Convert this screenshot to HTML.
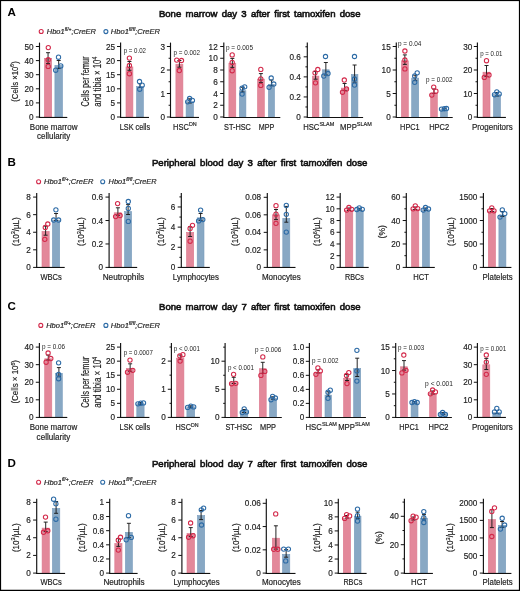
<!DOCTYPE html>
<html><head><meta charset="utf-8"><style>
html,body{margin:0;padding:0;background:#fff;}
body{width:520px;height:591px;overflow:hidden;}
svg{display:block;font-family:"Liberation Sans",sans-serif;}
svg{will-change:transform}
text:not([font-weight]){stroke:currentColor;stroke-width:0.18px}
text.pv{stroke:none}
text.ttl{stroke:#111;stroke-width:0.6px;word-spacing:1.6px}
</style></head><body>
<svg width="520" height="591" viewBox="0 0 520 591">
<rect x="0" y="0" width="520" height="591" fill="#fff"/>
<g fill="#1e1e1e" style="color:#1e1e1e">
<text x="7.4" y="16.2" font-size="11.6" font-weight="bold" fill="#000">A</text>
<text x="158.9" y="16.5" font-size="9.7" textLength="201.6" lengthAdjust="spacingAndGlyphs" fill="#111" class="ttl">Bone marrow day 3 after first tamoxifen dose</text>
<circle cx="41.2" cy="31.5" r="2" fill="none" stroke="#D3294A" stroke-width="1.1"/>
<circle cx="105.9" cy="31.6" r="2" fill="none" stroke="#2D6BA6" stroke-width="1.1"/>
<text x="46.8" y="33.9" font-size="6.9" font-style="italic" textLength="49.2" lengthAdjust="spacingAndGlyphs" fill="#2a2a2a">Hbo1<tspan font-size="4.6" dy="-3.3">fl/+</tspan><tspan dy="3.3">;CreER</tspan></text>
<text x="110.8" y="34" font-size="6.9" font-style="italic" textLength="49.2" lengthAdjust="spacingAndGlyphs" fill="#2a2a2a">Hbo1<tspan font-size="4.6" dy="-3.3">fl/fl</tspan><tspan dy="3.3">;CreER</tspan></text>
<rect x="44.4" y="58.3" width="7.3" height="58.7" fill="#E3889A" stroke="#DC788D" stroke-width="0.6"/>
<rect x="54.9" y="65.4" width="7.6" height="51.6" fill="#88A8C4" stroke="#789BBC" stroke-width="0.6"/>
<line x1="48.05" y1="52.7" x2="48.05" y2="63.6" stroke="#1a1a1a" stroke-width="0.95"/>
<line x1="46.05" y1="52.7" x2="50.05" y2="52.7" stroke="#1a1a1a" stroke-width="0.95"/>
<line x1="46.05" y1="63.6" x2="50.05" y2="63.6" stroke="#1a1a1a" stroke-width="0.95"/>
<circle cx="48.3" cy="47.6" r="2.15" fill="none" stroke="#D3294A" stroke-width="1.05"/>
<circle cx="48.2" cy="59.8" r="2.15" fill="none" stroke="#D3294A" stroke-width="1.05"/>
<circle cx="48.2" cy="66.4" r="2.15" fill="none" stroke="#D3294A" stroke-width="1.05"/>
<line x1="58.7" y1="60.5" x2="58.7" y2="68.4" stroke="#1a1a1a" stroke-width="0.95"/>
<line x1="56.7" y1="60.5" x2="60.7" y2="60.5" stroke="#1a1a1a" stroke-width="0.95"/>
<line x1="56.7" y1="68.4" x2="60.7" y2="68.4" stroke="#1a1a1a" stroke-width="0.95"/>
<circle cx="58.5" cy="57.2" r="2.15" fill="none" stroke="#2D6BA6" stroke-width="1.05"/>
<circle cx="60.8" cy="65.9" r="2.15" fill="none" stroke="#2D6BA6" stroke-width="1.05"/>
<circle cx="55.7" cy="70.2" r="2.15" fill="none" stroke="#2D6BA6" stroke-width="1.05"/>
<line x1="39.5" y1="42.6" x2="39.5" y2="117.6" stroke="#111" stroke-width="1.15"/>
<line x1="38.9" y1="117.45" x2="67.3" y2="117.45" stroke="#111" stroke-width="1.1"/>
<line x1="35.9" y1="117" x2="39.5" y2="117" stroke="#111" stroke-width="1"/>
<text x="33.6" y="120.05" font-size="8.9" text-anchor="end" textLength="4.55" lengthAdjust="spacingAndGlyphs">0</text>
<line x1="35.9" y1="102.9" x2="39.5" y2="102.9" stroke="#111" stroke-width="1"/>
<text x="33.6" y="105.95" font-size="8.9" text-anchor="end" textLength="9.11" lengthAdjust="spacingAndGlyphs">10</text>
<line x1="35.9" y1="88.8" x2="39.5" y2="88.8" stroke="#111" stroke-width="1"/>
<text x="33.6" y="91.85" font-size="8.9" text-anchor="end" textLength="9.11" lengthAdjust="spacingAndGlyphs">20</text>
<line x1="35.9" y1="74.7" x2="39.5" y2="74.7" stroke="#111" stroke-width="1"/>
<text x="33.6" y="77.75" font-size="8.9" text-anchor="end" textLength="9.11" lengthAdjust="spacingAndGlyphs">30</text>
<line x1="35.9" y1="60.6" x2="39.5" y2="60.6" stroke="#111" stroke-width="1"/>
<text x="33.6" y="63.65" font-size="8.9" text-anchor="end" textLength="9.11" lengthAdjust="spacingAndGlyphs">40</text>
<line x1="35.9" y1="46.5" x2="39.5" y2="46.5" stroke="#111" stroke-width="1"/>
<text x="33.6" y="49.55" font-size="8.9" text-anchor="end" textLength="9.11" lengthAdjust="spacingAndGlyphs">50</text>
<text x="17.6" y="81.5" font-size="8.6" text-anchor="middle" textLength="40.5" lengthAdjust="spacingAndGlyphs" transform="rotate(-90 17.6 81.5)">(Cells ×10<tspan font-size="5.68" dy="-3.44">6</tspan><tspan dy="3.44">)</tspan></text>
<text x="53.65" y="129.6" font-size="8.2" text-anchor="middle" textLength="47.7" lengthAdjust="spacingAndGlyphs">Bone marrow</text>
<text x="53.65" y="139.2" font-size="8.2" text-anchor="middle" textLength="33.1" lengthAdjust="spacingAndGlyphs">cellularity</text>
<rect x="126" y="66.9" width="6.9" height="50.1" fill="#E3889A" stroke="#DC788D" stroke-width="0.6"/>
<rect x="136.5" y="86.5" width="6.9" height="30.5" fill="#88A8C4" stroke="#789BBC" stroke-width="0.6"/>
<line x1="129.45" y1="61.5" x2="129.45" y2="70.3" stroke="#1a1a1a" stroke-width="0.95"/>
<line x1="127.45" y1="61.5" x2="131.45" y2="61.5" stroke="#1a1a1a" stroke-width="0.95"/>
<line x1="127.45" y1="70.3" x2="131.45" y2="70.3" stroke="#1a1a1a" stroke-width="0.95"/>
<circle cx="129.4" cy="58.1" r="2.15" fill="none" stroke="#D3294A" stroke-width="1.05"/>
<circle cx="129.4" cy="65.5" r="2.15" fill="none" stroke="#D3294A" stroke-width="1.05"/>
<circle cx="129.4" cy="73.7" r="2.15" fill="none" stroke="#D3294A" stroke-width="1.05"/>
<line x1="139.95" y1="83.7" x2="139.95" y2="87.5" stroke="#1a1a1a" stroke-width="0.95"/>
<line x1="137.95" y1="83.7" x2="141.95" y2="83.7" stroke="#1a1a1a" stroke-width="0.95"/>
<line x1="137.95" y1="87.5" x2="141.95" y2="87.5" stroke="#1a1a1a" stroke-width="0.95"/>
<circle cx="139.5" cy="81.5" r="2.15" fill="none" stroke="#2D6BA6" stroke-width="1.05"/>
<circle cx="142.2" cy="85.2" r="2.15" fill="none" stroke="#2D6BA6" stroke-width="1.05"/>
<circle cx="139.7" cy="89.2" r="2.15" fill="none" stroke="#2D6BA6" stroke-width="1.05"/>
<line x1="120.6" y1="42.6" x2="120.6" y2="117.6" stroke="#111" stroke-width="1.15"/>
<line x1="120" y1="117.45" x2="149" y2="117.45" stroke="#111" stroke-width="1.1"/>
<line x1="117" y1="117" x2="120.6" y2="117" stroke="#111" stroke-width="1"/>
<text x="115" y="120.05" font-size="8.9" text-anchor="end" textLength="4.55" lengthAdjust="spacingAndGlyphs">0</text>
<line x1="117" y1="102.9" x2="120.6" y2="102.9" stroke="#111" stroke-width="1"/>
<text x="115" y="105.95" font-size="8.9" text-anchor="end" textLength="4.55" lengthAdjust="spacingAndGlyphs">5</text>
<line x1="117" y1="88.8" x2="120.6" y2="88.8" stroke="#111" stroke-width="1"/>
<text x="115" y="91.85" font-size="8.9" text-anchor="end" textLength="9.11" lengthAdjust="spacingAndGlyphs">10</text>
<line x1="117" y1="74.7" x2="120.6" y2="74.7" stroke="#111" stroke-width="1"/>
<text x="115" y="77.75" font-size="8.9" text-anchor="end" textLength="9.11" lengthAdjust="spacingAndGlyphs">15</text>
<line x1="117" y1="60.6" x2="120.6" y2="60.6" stroke="#111" stroke-width="1"/>
<text x="115" y="63.65" font-size="8.9" text-anchor="end" textLength="9.11" lengthAdjust="spacingAndGlyphs">20</text>
<line x1="117" y1="46.5" x2="120.6" y2="46.5" stroke="#111" stroke-width="1"/>
<text x="115" y="49.55" font-size="8.9" text-anchor="end" textLength="9.11" lengthAdjust="spacingAndGlyphs">25</text>
<text x="88.5" y="81.5" font-size="10.2" text-anchor="middle" textLength="50" lengthAdjust="spacingAndGlyphs" transform="rotate(-90 88.5 81.5)">Cells per femur</text>
<text x="100.8" y="81.7" font-size="10.2" text-anchor="middle" textLength="50" lengthAdjust="spacingAndGlyphs" transform="rotate(-90 100.8 81.7)">and tibia × 10<tspan font-size="6.73" dy="-4.08">4</tspan></text>
<text x="134.95" y="129.6" font-size="8.2" text-anchor="middle" textLength="30.3" lengthAdjust="spacingAndGlyphs">LSK cells</text>
<text x="123.7" y="52.9" font-size="6.9" textLength="22.3" lengthAdjust="spacingAndGlyphs" class="pv">p = 0.02</text>
<rect x="175.9" y="64.2" width="7" height="52.8" fill="#E3889A" stroke="#DC788D" stroke-width="0.6"/>
<rect x="186.1" y="101.6" width="7.4" height="15.4" fill="#88A8C4" stroke="#789BBC" stroke-width="0.6"/>
<line x1="179.4" y1="60.5" x2="179.4" y2="67.2" stroke="#1a1a1a" stroke-width="0.95"/>
<line x1="177.4" y1="60.5" x2="181.4" y2="60.5" stroke="#1a1a1a" stroke-width="0.95"/>
<line x1="177.4" y1="67.2" x2="181.4" y2="67.2" stroke="#1a1a1a" stroke-width="0.95"/>
<circle cx="176.7" cy="60.1" r="2.15" fill="none" stroke="#D3294A" stroke-width="1.05"/>
<circle cx="181.5" cy="60.5" r="2.15" fill="none" stroke="#D3294A" stroke-width="1.05"/>
<circle cx="179.3" cy="70.5" r="2.15" fill="none" stroke="#D3294A" stroke-width="1.05"/>
<line x1="189.8" y1="98.8" x2="189.8" y2="103" stroke="#1a1a1a" stroke-width="0.95"/>
<line x1="187.8" y1="98.8" x2="191.8" y2="98.8" stroke="#1a1a1a" stroke-width="0.95"/>
<line x1="187.8" y1="103" x2="191.8" y2="103" stroke="#1a1a1a" stroke-width="0.95"/>
<circle cx="187.7" cy="101.8" r="2.15" fill="none" stroke="#2D6BA6" stroke-width="1.05"/>
<circle cx="189.6" cy="98.5" r="2.15" fill="none" stroke="#2D6BA6" stroke-width="1.05"/>
<circle cx="192.4" cy="100.4" r="2.15" fill="none" stroke="#2D6BA6" stroke-width="1.05"/>
<line x1="170.5" y1="42.6" x2="170.5" y2="117.6" stroke="#111" stroke-width="1.15"/>
<line x1="169.9" y1="117.45" x2="199" y2="117.45" stroke="#111" stroke-width="1.1"/>
<line x1="166.9" y1="117" x2="170.5" y2="117" stroke="#111" stroke-width="1"/>
<text x="165" y="120.05" font-size="8.9" text-anchor="end" textLength="4.55" lengthAdjust="spacingAndGlyphs">0</text>
<line x1="166.9" y1="93.5" x2="170.5" y2="93.5" stroke="#111" stroke-width="1"/>
<text x="165" y="96.55" font-size="8.9" text-anchor="end" textLength="4.55" lengthAdjust="spacingAndGlyphs">1</text>
<line x1="166.9" y1="70" x2="170.5" y2="70" stroke="#111" stroke-width="1"/>
<text x="165" y="73.05" font-size="8.9" text-anchor="end" textLength="4.55" lengthAdjust="spacingAndGlyphs">2</text>
<line x1="166.9" y1="46.5" x2="170.5" y2="46.5" stroke="#111" stroke-width="1"/>
<text x="165" y="49.55" font-size="8.9" text-anchor="end" textLength="4.55" lengthAdjust="spacingAndGlyphs">3</text>
<line x1="168.6" y1="105.25" x2="170.5" y2="105.25" stroke="#111" stroke-width="1"/>
<line x1="168.6" y1="81.75" x2="170.5" y2="81.75" stroke="#111" stroke-width="1"/>
<line x1="168.6" y1="58.25" x2="170.5" y2="58.25" stroke="#111" stroke-width="1"/>
<text x="184.9" y="129.6" font-size="8.2" text-anchor="middle" textLength="23.6" lengthAdjust="spacingAndGlyphs">HSC<tspan font-size="5.90" dy="-3.40">DN</tspan></text>
<text x="173.6" y="54.8" font-size="6.9" textLength="26.3" lengthAdjust="spacingAndGlyphs" class="pv">p = 0.002</text>
<rect x="228.9" y="63.2" width="6.9" height="53.8" fill="#E3889A" stroke="#DC788D" stroke-width="0.6"/>
<rect x="239.3" y="90.7" width="6.6" height="26.3" fill="#88A8C4" stroke="#789BBC" stroke-width="0.6"/>
<rect x="257.5" y="79.1" width="6.8" height="37.9" fill="#E3889A" stroke="#DC788D" stroke-width="0.6"/>
<rect x="268.4" y="84.3" width="6.1" height="32.7" fill="#88A8C4" stroke="#789BBC" stroke-width="0.6"/>
<line x1="232.35" y1="58.4" x2="232.35" y2="67.4" stroke="#1a1a1a" stroke-width="0.95"/>
<line x1="230.35" y1="58.4" x2="234.35" y2="58.4" stroke="#1a1a1a" stroke-width="0.95"/>
<line x1="230.35" y1="67.4" x2="234.35" y2="67.4" stroke="#1a1a1a" stroke-width="0.95"/>
<circle cx="232.2" cy="54.9" r="2.15" fill="none" stroke="#D3294A" stroke-width="1.05"/>
<circle cx="232.2" cy="62.4" r="2.15" fill="none" stroke="#D3294A" stroke-width="1.05"/>
<circle cx="232.2" cy="70.7" r="2.15" fill="none" stroke="#D3294A" stroke-width="1.05"/>
<line x1="242.6" y1="87.3" x2="242.6" y2="92" stroke="#1a1a1a" stroke-width="0.95"/>
<line x1="240.6" y1="87.3" x2="244.6" y2="87.3" stroke="#1a1a1a" stroke-width="0.95"/>
<line x1="240.6" y1="92" x2="244.6" y2="92" stroke="#1a1a1a" stroke-width="0.95"/>
<circle cx="244.7" cy="86.8" r="2.15" fill="none" stroke="#2D6BA6" stroke-width="1.05"/>
<circle cx="242.1" cy="88.1" r="2.15" fill="none" stroke="#2D6BA6" stroke-width="1.05"/>
<circle cx="242.1" cy="94.1" r="2.15" fill="none" stroke="#2D6BA6" stroke-width="1.05"/>
<line x1="260.9" y1="73.6" x2="260.9" y2="82.6" stroke="#1a1a1a" stroke-width="0.95"/>
<line x1="258.9" y1="73.6" x2="262.9" y2="73.6" stroke="#1a1a1a" stroke-width="0.95"/>
<line x1="258.9" y1="82.6" x2="262.9" y2="82.6" stroke="#1a1a1a" stroke-width="0.95"/>
<circle cx="260.8" cy="69.4" r="2.15" fill="none" stroke="#D3294A" stroke-width="1.05"/>
<circle cx="260.8" cy="78.8" r="2.15" fill="none" stroke="#D3294A" stroke-width="1.05"/>
<circle cx="260.8" cy="85.4" r="2.15" fill="none" stroke="#D3294A" stroke-width="1.05"/>
<line x1="271.45" y1="80" x2="271.45" y2="85.7" stroke="#1a1a1a" stroke-width="0.95"/>
<line x1="269.45" y1="80" x2="273.45" y2="80" stroke="#1a1a1a" stroke-width="0.95"/>
<line x1="269.45" y1="85.7" x2="273.45" y2="85.7" stroke="#1a1a1a" stroke-width="0.95"/>
<circle cx="271.2" cy="78" r="2.15" fill="none" stroke="#2D6BA6" stroke-width="1.05"/>
<circle cx="273.8" cy="84" r="2.15" fill="none" stroke="#2D6BA6" stroke-width="1.05"/>
<circle cx="269.1" cy="87.3" r="2.15" fill="none" stroke="#2D6BA6" stroke-width="1.05"/>
<line x1="223.8" y1="42.6" x2="223.8" y2="117.6" stroke="#111" stroke-width="1.15"/>
<line x1="223.2" y1="117.45" x2="280.3" y2="117.45" stroke="#111" stroke-width="1.1"/>
<line x1="220.2" y1="117" x2="223.8" y2="117" stroke="#111" stroke-width="1"/>
<text x="217.7" y="120.05" font-size="8.9" text-anchor="end" textLength="4.55" lengthAdjust="spacingAndGlyphs">0</text>
<line x1="220.2" y1="105.25" x2="223.8" y2="105.25" stroke="#111" stroke-width="1"/>
<text x="217.7" y="108.3" font-size="8.9" text-anchor="end" textLength="4.55" lengthAdjust="spacingAndGlyphs">2</text>
<line x1="220.2" y1="93.5" x2="223.8" y2="93.5" stroke="#111" stroke-width="1"/>
<text x="217.7" y="96.55" font-size="8.9" text-anchor="end" textLength="4.55" lengthAdjust="spacingAndGlyphs">4</text>
<line x1="220.2" y1="81.75" x2="223.8" y2="81.75" stroke="#111" stroke-width="1"/>
<text x="217.7" y="84.8" font-size="8.9" text-anchor="end" textLength="4.55" lengthAdjust="spacingAndGlyphs">6</text>
<line x1="220.2" y1="70" x2="223.8" y2="70" stroke="#111" stroke-width="1"/>
<text x="217.7" y="73.05" font-size="8.9" text-anchor="end" textLength="4.55" lengthAdjust="spacingAndGlyphs">8</text>
<line x1="220.2" y1="58.25" x2="223.8" y2="58.25" stroke="#111" stroke-width="1"/>
<text x="217.7" y="61.3" font-size="8.9" text-anchor="end" textLength="9.11" lengthAdjust="spacingAndGlyphs">10</text>
<line x1="220.2" y1="46.5" x2="223.8" y2="46.5" stroke="#111" stroke-width="1"/>
<text x="217.7" y="49.55" font-size="8.9" text-anchor="end" textLength="9.11" lengthAdjust="spacingAndGlyphs">12</text>
<text x="237.45" y="129.6" font-size="8.2" text-anchor="middle" textLength="26.9" lengthAdjust="spacingAndGlyphs">ST-HSC</text>
<text x="266.45" y="129.6" font-size="8.2" text-anchor="middle" textLength="15.5" lengthAdjust="spacingAndGlyphs">MPP</text>
<text x="226" y="50.1" font-size="6.9" textLength="27" lengthAdjust="spacingAndGlyphs" class="pv">p = 0.005</text>
<rect x="312.3" y="76.1" width="6.6" height="40.9" fill="#E3889A" stroke="#DC788D" stroke-width="0.6"/>
<rect x="322.5" y="69.8" width="6.7" height="47.2" fill="#88A8C4" stroke="#789BBC" stroke-width="0.6"/>
<rect x="341.3" y="88.1" width="6.6" height="28.9" fill="#E3889A" stroke="#DC788D" stroke-width="0.6"/>
<rect x="351.3" y="74.5" width="6.6" height="42.5" fill="#88A8C4" stroke="#789BBC" stroke-width="0.6"/>
<line x1="315.6" y1="71.5" x2="315.6" y2="79.2" stroke="#1a1a1a" stroke-width="0.95"/>
<line x1="313.6" y1="71.5" x2="317.6" y2="71.5" stroke="#1a1a1a" stroke-width="0.95"/>
<line x1="313.6" y1="79.2" x2="317.6" y2="79.2" stroke="#1a1a1a" stroke-width="0.95"/>
<circle cx="317.8" cy="69.5" r="2.15" fill="none" stroke="#D3294A" stroke-width="1.05"/>
<circle cx="315" cy="72.8" r="2.15" fill="none" stroke="#D3294A" stroke-width="1.05"/>
<circle cx="315.5" cy="82.8" r="2.15" fill="none" stroke="#D3294A" stroke-width="1.05"/>
<line x1="325.85" y1="62.5" x2="325.85" y2="75" stroke="#1a1a1a" stroke-width="0.95"/>
<line x1="323.85" y1="62.5" x2="327.85" y2="62.5" stroke="#1a1a1a" stroke-width="0.95"/>
<line x1="323.85" y1="75" x2="327.85" y2="75" stroke="#1a1a1a" stroke-width="0.95"/>
<circle cx="325.5" cy="56.5" r="2.15" fill="none" stroke="#2D6BA6" stroke-width="1.05"/>
<circle cx="328" cy="73.5" r="2.15" fill="none" stroke="#2D6BA6" stroke-width="1.05"/>
<circle cx="323.8" cy="76" r="2.15" fill="none" stroke="#2D6BA6" stroke-width="1.05"/>
<line x1="344.6" y1="83.5" x2="344.6" y2="90.5" stroke="#1a1a1a" stroke-width="0.95"/>
<line x1="342.6" y1="83.5" x2="346.6" y2="83.5" stroke="#1a1a1a" stroke-width="0.95"/>
<line x1="342.6" y1="90.5" x2="346.6" y2="90.5" stroke="#1a1a1a" stroke-width="0.95"/>
<circle cx="344.3" cy="80" r="2.15" fill="none" stroke="#D3294A" stroke-width="1.05"/>
<circle cx="346.5" cy="89" r="2.15" fill="none" stroke="#D3294A" stroke-width="1.05"/>
<circle cx="342.5" cy="92.2" r="2.15" fill="none" stroke="#D3294A" stroke-width="1.05"/>
<line x1="354.6" y1="65" x2="354.6" y2="82.2" stroke="#1a1a1a" stroke-width="0.95"/>
<line x1="352.6" y1="65" x2="356.6" y2="65" stroke="#1a1a1a" stroke-width="0.95"/>
<line x1="352.6" y1="82.2" x2="356.6" y2="82.2" stroke="#1a1a1a" stroke-width="0.95"/>
<circle cx="354.5" cy="56.5" r="2.15" fill="none" stroke="#2D6BA6" stroke-width="1.05"/>
<circle cx="354.5" cy="79" r="2.15" fill="none" stroke="#2D6BA6" stroke-width="1.05"/>
<circle cx="354.5" cy="85" r="2.15" fill="none" stroke="#2D6BA6" stroke-width="1.05"/>
<line x1="307.3" y1="42.6" x2="307.3" y2="117.6" stroke="#111" stroke-width="1.15"/>
<line x1="306.7" y1="117.45" x2="363.1" y2="117.45" stroke="#111" stroke-width="1.1"/>
<line x1="303.7" y1="117" x2="307.3" y2="117" stroke="#111" stroke-width="1"/>
<text x="300.8" y="120.05" font-size="8.9" text-anchor="end" textLength="4.55" lengthAdjust="spacingAndGlyphs">0</text>
<line x1="303.7" y1="96.94" x2="307.3" y2="96.94" stroke="#111" stroke-width="1"/>
<text x="300.8" y="99.99" font-size="8.9" text-anchor="end" textLength="11.38" lengthAdjust="spacingAndGlyphs">0.2</text>
<line x1="303.7" y1="76.88" x2="307.3" y2="76.88" stroke="#111" stroke-width="1"/>
<text x="300.8" y="79.93" font-size="8.9" text-anchor="end" textLength="11.38" lengthAdjust="spacingAndGlyphs">0.4</text>
<line x1="303.7" y1="56.82" x2="307.3" y2="56.82" stroke="#111" stroke-width="1"/>
<text x="300.8" y="59.87" font-size="8.9" text-anchor="end" textLength="11.38" lengthAdjust="spacingAndGlyphs">0.6</text>
<line x1="305.4" y1="106.97" x2="307.3" y2="106.97" stroke="#111" stroke-width="1"/>
<line x1="305.4" y1="86.91" x2="307.3" y2="86.91" stroke="#111" stroke-width="1"/>
<line x1="305.4" y1="66.85" x2="307.3" y2="66.85" stroke="#111" stroke-width="1"/>
<line x1="305.4" y1="46.79" x2="307.3" y2="46.79" stroke="#111" stroke-width="1"/>
<text x="318.7" y="129.6" font-size="8.2" text-anchor="middle" textLength="31" lengthAdjust="spacingAndGlyphs">HSC<tspan font-size="5.80" dy="-3.50">SLAM</tspan></text>
<text x="355.9" y="129.6" font-size="8.2" text-anchor="middle" textLength="31.6" lengthAdjust="spacingAndGlyphs">MPP<tspan font-size="5.80" dy="-3.50">SLAM</tspan></text>
<rect x="401.4" y="60.8" width="6.9" height="56.2" fill="#E3889A" stroke="#DC788D" stroke-width="0.6"/>
<rect x="411.7" y="78.1" width="7" height="38.9" fill="#88A8C4" stroke="#789BBC" stroke-width="0.6"/>
<rect x="430.7" y="93" width="6.6" height="24" fill="#E3889A" stroke="#DC788D" stroke-width="0.6"/>
<rect x="440.5" y="109.7" width="6.9" height="7.3" fill="#88A8C4" stroke="#789BBC" stroke-width="0.6"/>
<line x1="404.85" y1="54.9" x2="404.85" y2="64.4" stroke="#1a1a1a" stroke-width="0.95"/>
<line x1="402.85" y1="54.9" x2="406.85" y2="54.9" stroke="#1a1a1a" stroke-width="0.95"/>
<line x1="402.85" y1="64.4" x2="406.85" y2="64.4" stroke="#1a1a1a" stroke-width="0.95"/>
<circle cx="404.9" cy="51" r="2.15" fill="none" stroke="#D3294A" stroke-width="1.05"/>
<circle cx="404.9" cy="60" r="2.15" fill="none" stroke="#D3294A" stroke-width="1.05"/>
<circle cx="404.9" cy="68.9" r="2.15" fill="none" stroke="#D3294A" stroke-width="1.05"/>
<line x1="415.2" y1="75.2" x2="415.2" y2="80.6" stroke="#1a1a1a" stroke-width="0.95"/>
<line x1="413.2" y1="75.2" x2="417.2" y2="75.2" stroke="#1a1a1a" stroke-width="0.95"/>
<line x1="413.2" y1="80.6" x2="417.2" y2="80.6" stroke="#1a1a1a" stroke-width="0.95"/>
<circle cx="417.2" cy="72.8" r="2.15" fill="none" stroke="#2D6BA6" stroke-width="1.05"/>
<circle cx="414.7" cy="75.9" r="2.15" fill="none" stroke="#2D6BA6" stroke-width="1.05"/>
<circle cx="414.7" cy="82.3" r="2.15" fill="none" stroke="#2D6BA6" stroke-width="1.05"/>
<line x1="434" y1="89" x2="434" y2="93.4" stroke="#1a1a1a" stroke-width="0.95"/>
<line x1="432" y1="89" x2="436" y2="89" stroke="#1a1a1a" stroke-width="0.95"/>
<line x1="432" y1="93.4" x2="436" y2="93.4" stroke="#1a1a1a" stroke-width="0.95"/>
<circle cx="433.7" cy="87.1" r="2.15" fill="none" stroke="#D3294A" stroke-width="1.05"/>
<circle cx="435.9" cy="91.2" r="2.15" fill="none" stroke="#D3294A" stroke-width="1.05"/>
<circle cx="431.8" cy="95.1" r="2.15" fill="none" stroke="#D3294A" stroke-width="1.05"/>
<line x1="443.95" y1="108.3" x2="443.95" y2="110.5" stroke="#1a1a1a" stroke-width="0.95"/>
<line x1="441.95" y1="108.3" x2="445.95" y2="108.3" stroke="#1a1a1a" stroke-width="0.95"/>
<line x1="441.95" y1="110.5" x2="445.95" y2="110.5" stroke="#1a1a1a" stroke-width="0.95"/>
<circle cx="441.5" cy="109.1" r="2.15" fill="none" stroke="#2D6BA6" stroke-width="1.05"/>
<circle cx="444.3" cy="108.7" r="2.15" fill="none" stroke="#2D6BA6" stroke-width="1.05"/>
<circle cx="446.5" cy="108.5" r="2.15" fill="none" stroke="#2D6BA6" stroke-width="1.05"/>
<line x1="396.3" y1="42.6" x2="396.3" y2="117.6" stroke="#111" stroke-width="1.15"/>
<line x1="395.7" y1="117.45" x2="452.7" y2="117.45" stroke="#111" stroke-width="1.1"/>
<line x1="392.7" y1="117" x2="396.3" y2="117" stroke="#111" stroke-width="1"/>
<text x="390.7" y="120.05" font-size="8.9" text-anchor="end" textLength="4.55" lengthAdjust="spacingAndGlyphs">0</text>
<line x1="392.7" y1="93.5" x2="396.3" y2="93.5" stroke="#111" stroke-width="1"/>
<text x="390.7" y="96.55" font-size="8.9" text-anchor="end" textLength="4.55" lengthAdjust="spacingAndGlyphs">5</text>
<line x1="392.7" y1="70" x2="396.3" y2="70" stroke="#111" stroke-width="1"/>
<text x="390.7" y="73.05" font-size="8.9" text-anchor="end" textLength="9.11" lengthAdjust="spacingAndGlyphs">10</text>
<line x1="392.7" y1="46.5" x2="396.3" y2="46.5" stroke="#111" stroke-width="1"/>
<text x="390.7" y="49.55" font-size="8.9" text-anchor="end" textLength="9.11" lengthAdjust="spacingAndGlyphs">15</text>
<line x1="394.4" y1="105.25" x2="396.3" y2="105.25" stroke="#111" stroke-width="1"/>
<line x1="394.4" y1="81.75" x2="396.3" y2="81.75" stroke="#111" stroke-width="1"/>
<line x1="394.4" y1="58.25" x2="396.3" y2="58.25" stroke="#111" stroke-width="1"/>
<text x="409.9" y="129.6" font-size="8.2" text-anchor="middle" textLength="19.6" lengthAdjust="spacingAndGlyphs">HPC1</text>
<text x="439.2" y="129.6" font-size="8.2" text-anchor="middle" textLength="20" lengthAdjust="spacingAndGlyphs">HPC2</text>
<text x="398" y="45.5" font-size="6.9" textLength="23.4" lengthAdjust="spacingAndGlyphs" class="pv">p = 0.04</text>
<text x="426" y="82.3" font-size="6.9" textLength="26.5" lengthAdjust="spacingAndGlyphs" class="pv">p = 0.002</text>
<rect x="483" y="72.2" width="7" height="44.8" fill="#E3889A" stroke="#DC788D" stroke-width="0.6"/>
<rect x="493.5" y="94.6" width="7" height="22.4" fill="#88A8C4" stroke="#789BBC" stroke-width="0.6"/>
<line x1="486.5" y1="65.5" x2="486.5" y2="76.5" stroke="#1a1a1a" stroke-width="0.95"/>
<line x1="484.5" y1="65.5" x2="488.5" y2="65.5" stroke="#1a1a1a" stroke-width="0.95"/>
<line x1="484.5" y1="76.5" x2="488.5" y2="76.5" stroke="#1a1a1a" stroke-width="0.95"/>
<circle cx="486.5" cy="60.7" r="2.15" fill="none" stroke="#D3294A" stroke-width="1.05"/>
<circle cx="489" cy="75" r="2.15" fill="none" stroke="#D3294A" stroke-width="1.05"/>
<circle cx="484.3" cy="77.4" r="2.15" fill="none" stroke="#D3294A" stroke-width="1.05"/>
<line x1="497" y1="92.5" x2="497" y2="96" stroke="#1a1a1a" stroke-width="0.95"/>
<line x1="495" y1="92.5" x2="499" y2="92.5" stroke="#1a1a1a" stroke-width="0.95"/>
<line x1="495" y1="96" x2="499" y2="96" stroke="#1a1a1a" stroke-width="0.95"/>
<circle cx="496.8" cy="91.8" r="2.15" fill="none" stroke="#2D6BA6" stroke-width="1.05"/>
<circle cx="499.2" cy="93.9" r="2.15" fill="none" stroke="#2D6BA6" stroke-width="1.05"/>
<circle cx="494.5" cy="94.7" r="2.15" fill="none" stroke="#2D6BA6" stroke-width="1.05"/>
<line x1="477.4" y1="42.6" x2="477.4" y2="117.6" stroke="#111" stroke-width="1.15"/>
<line x1="476.8" y1="117.45" x2="505.9" y2="117.45" stroke="#111" stroke-width="1.1"/>
<line x1="473.8" y1="117" x2="477.4" y2="117" stroke="#111" stroke-width="1"/>
<text x="472.4" y="120.05" font-size="8.9" text-anchor="end" textLength="4.55" lengthAdjust="spacingAndGlyphs">0</text>
<line x1="473.8" y1="93.5" x2="477.4" y2="93.5" stroke="#111" stroke-width="1"/>
<text x="472.4" y="96.55" font-size="8.9" text-anchor="end" textLength="9.11" lengthAdjust="spacingAndGlyphs">10</text>
<line x1="473.8" y1="70" x2="477.4" y2="70" stroke="#111" stroke-width="1"/>
<text x="472.4" y="73.05" font-size="8.9" text-anchor="end" textLength="9.11" lengthAdjust="spacingAndGlyphs">20</text>
<line x1="473.8" y1="46.5" x2="477.4" y2="46.5" stroke="#111" stroke-width="1"/>
<text x="472.4" y="49.55" font-size="8.9" text-anchor="end" textLength="9.11" lengthAdjust="spacingAndGlyphs">30</text>
<line x1="475.5" y1="105.25" x2="477.4" y2="105.25" stroke="#111" stroke-width="1"/>
<line x1="475.5" y1="81.75" x2="477.4" y2="81.75" stroke="#111" stroke-width="1"/>
<line x1="475.5" y1="58.25" x2="477.4" y2="58.25" stroke="#111" stroke-width="1"/>
<text x="492.3" y="129.6" font-size="8.2" text-anchor="middle" textLength="40.8" lengthAdjust="spacingAndGlyphs">Progenitors</text>
<text x="480.2" y="55.7" font-size="6.9" textLength="22.3" lengthAdjust="spacingAndGlyphs" class="pv">p = 0.01</text>
<text x="7.4" y="166.2" font-size="11.6" font-weight="bold" fill="#000">B</text>
<text x="151.9" y="166.2" font-size="9.7" textLength="215.5" lengthAdjust="spacingAndGlyphs" fill="#111" class="ttl">Peripheral blood day 3 after first tamoxifen dose</text>
<circle cx="38.6" cy="181.7" r="2" fill="none" stroke="#D3294A" stroke-width="1.1"/>
<circle cx="102.7" cy="181.7" r="2" fill="none" stroke="#2D6BA6" stroke-width="1.1"/>
<text x="44" y="184.1" font-size="6.9" font-style="italic" textLength="49.3" lengthAdjust="spacingAndGlyphs" fill="#2a2a2a">Hbo1<tspan font-size="4.6" dy="-3.3">fl/+</tspan><tspan dy="3.3">;CreER</tspan></text>
<text x="108.6" y="184.1" font-size="6.9" font-style="italic" textLength="47.9" lengthAdjust="spacingAndGlyphs" fill="#2a2a2a">Hbo1<tspan font-size="4.6" dy="-3.3">fl/fl</tspan><tspan dy="3.3">;CreER</tspan></text>
<rect x="42" y="231.4" width="7.2" height="36" fill="#E3889A" stroke="#DC788D" stroke-width="0.6"/>
<rect x="52.4" y="220.1" width="7.3" height="47.3" fill="#88A8C4" stroke="#789BBC" stroke-width="0.6"/>
<line x1="45.6" y1="226.1" x2="45.6" y2="235.2" stroke="#1a1a1a" stroke-width="0.95"/>
<line x1="43.6" y1="226.1" x2="47.6" y2="226.1" stroke="#1a1a1a" stroke-width="0.95"/>
<line x1="43.6" y1="235.2" x2="47.6" y2="235.2" stroke="#1a1a1a" stroke-width="0.95"/>
<circle cx="47.8" cy="224" r="2.15" fill="none" stroke="#D3294A" stroke-width="1.05"/>
<circle cx="45.3" cy="227.4" r="2.15" fill="none" stroke="#D3294A" stroke-width="1.05"/>
<circle cx="44.8" cy="239.3" r="2.15" fill="none" stroke="#D3294A" stroke-width="1.05"/>
<line x1="56.05" y1="213.5" x2="56.05" y2="220.3" stroke="#1a1a1a" stroke-width="0.95"/>
<line x1="54.05" y1="213.5" x2="58.05" y2="213.5" stroke="#1a1a1a" stroke-width="0.95"/>
<line x1="54.05" y1="220.3" x2="58.05" y2="220.3" stroke="#1a1a1a" stroke-width="0.95"/>
<circle cx="55.9" cy="209.8" r="2.15" fill="none" stroke="#2D6BA6" stroke-width="1.05"/>
<circle cx="53.7" cy="220" r="2.15" fill="none" stroke="#2D6BA6" stroke-width="1.05"/>
<circle cx="58.6" cy="220" r="2.15" fill="none" stroke="#2D6BA6" stroke-width="1.05"/>
<line x1="36.7" y1="193" x2="36.7" y2="268" stroke="#111" stroke-width="1.15"/>
<line x1="36.1" y1="267.45" x2="64.7" y2="267.45" stroke="#111" stroke-width="1.1"/>
<line x1="33.1" y1="267.4" x2="36.7" y2="267.4" stroke="#111" stroke-width="1"/>
<text x="30.7" y="270.45" font-size="8.9" text-anchor="end" textLength="4.55" lengthAdjust="spacingAndGlyphs">0</text>
<line x1="33.1" y1="249.82" x2="36.7" y2="249.82" stroke="#111" stroke-width="1"/>
<text x="30.7" y="252.87" font-size="8.9" text-anchor="end" textLength="4.55" lengthAdjust="spacingAndGlyphs">2</text>
<line x1="33.1" y1="232.24" x2="36.7" y2="232.24" stroke="#111" stroke-width="1"/>
<text x="30.7" y="235.29" font-size="8.9" text-anchor="end" textLength="4.55" lengthAdjust="spacingAndGlyphs">4</text>
<line x1="33.1" y1="214.66" x2="36.7" y2="214.66" stroke="#111" stroke-width="1"/>
<text x="30.7" y="217.71" font-size="8.9" text-anchor="end" textLength="4.55" lengthAdjust="spacingAndGlyphs">6</text>
<line x1="33.1" y1="197.08" x2="36.7" y2="197.08" stroke="#111" stroke-width="1"/>
<text x="30.7" y="200.13" font-size="8.9" text-anchor="end" textLength="4.55" lengthAdjust="spacingAndGlyphs">8</text>
<text x="18.8" y="231.6" font-size="8.6" text-anchor="middle" textLength="28.8" lengthAdjust="spacingAndGlyphs" transform="rotate(-90 18.8 231.6)">(10<tspan font-size="5.90" dy="-3.60">3</tspan><tspan dy="3.60">/µL)</tspan></text>
<text x="51.1" y="279.7" font-size="8.2" text-anchor="middle" textLength="21.4" lengthAdjust="spacingAndGlyphs">WBCs</text>
<rect x="114.2" y="212.8" width="7.4" height="54.6" fill="#E3889A" stroke="#DC788D" stroke-width="0.6"/>
<rect x="124.6" y="211.5" width="7" height="55.9" fill="#88A8C4" stroke="#789BBC" stroke-width="0.6"/>
<line x1="117.9" y1="207.8" x2="117.9" y2="215.3" stroke="#1a1a1a" stroke-width="0.95"/>
<line x1="115.9" y1="207.8" x2="119.9" y2="207.8" stroke="#1a1a1a" stroke-width="0.95"/>
<line x1="115.9" y1="215.3" x2="119.9" y2="215.3" stroke="#1a1a1a" stroke-width="0.95"/>
<circle cx="117.6" cy="203.6" r="2.15" fill="none" stroke="#D3294A" stroke-width="1.05"/>
<circle cx="115.6" cy="216.6" r="2.15" fill="none" stroke="#D3294A" stroke-width="1.05"/>
<circle cx="120.1" cy="215.5" r="2.15" fill="none" stroke="#D3294A" stroke-width="1.05"/>
<line x1="128.1" y1="204.6" x2="128.1" y2="214.5" stroke="#1a1a1a" stroke-width="0.95"/>
<line x1="126.1" y1="204.6" x2="130.1" y2="204.6" stroke="#1a1a1a" stroke-width="0.95"/>
<line x1="126.1" y1="214.5" x2="130.1" y2="214.5" stroke="#1a1a1a" stroke-width="0.95"/>
<circle cx="128.3" cy="201.5" r="2.15" fill="none" stroke="#2D6BA6" stroke-width="1.05"/>
<circle cx="128.3" cy="208.4" r="2.15" fill="none" stroke="#2D6BA6" stroke-width="1.05"/>
<circle cx="128.3" cy="221.4" r="2.15" fill="none" stroke="#2D6BA6" stroke-width="1.05"/>
<line x1="109.1" y1="193" x2="109.1" y2="268" stroke="#111" stroke-width="1.15"/>
<line x1="108.5" y1="267.45" x2="137.2" y2="267.45" stroke="#111" stroke-width="1.1"/>
<line x1="105.5" y1="267.4" x2="109.1" y2="267.4" stroke="#111" stroke-width="1"/>
<text x="103.1" y="270.45" font-size="8.9" text-anchor="end" textLength="4.55" lengthAdjust="spacingAndGlyphs">0</text>
<line x1="105.5" y1="243.96" x2="109.1" y2="243.96" stroke="#111" stroke-width="1"/>
<text x="103.1" y="247.01" font-size="8.9" text-anchor="end" textLength="11.38" lengthAdjust="spacingAndGlyphs">0.2</text>
<line x1="105.5" y1="220.52" x2="109.1" y2="220.52" stroke="#111" stroke-width="1"/>
<text x="103.1" y="223.57" font-size="8.9" text-anchor="end" textLength="11.38" lengthAdjust="spacingAndGlyphs">0.4</text>
<line x1="105.5" y1="197.08" x2="109.1" y2="197.08" stroke="#111" stroke-width="1"/>
<text x="103.1" y="200.13" font-size="8.9" text-anchor="end" textLength="11.38" lengthAdjust="spacingAndGlyphs">0.6</text>
<text x="84.1" y="231.6" font-size="8.6" text-anchor="middle" textLength="28.8" lengthAdjust="spacingAndGlyphs" transform="rotate(-90 84.1 231.6)">(10<tspan font-size="5.90" dy="-3.60">3</tspan><tspan dy="3.60">/µL)</tspan></text>
<text x="123.45" y="279.7" font-size="8.2" text-anchor="middle" textLength="41.5" lengthAdjust="spacingAndGlyphs">Neutrophils</text>
<rect x="186.5" y="232.4" width="7.2" height="35" fill="#E3889A" stroke="#DC788D" stroke-width="0.6"/>
<rect x="197.2" y="217.8" width="6.8" height="49.6" fill="#88A8C4" stroke="#789BBC" stroke-width="0.6"/>
<line x1="190.1" y1="226.7" x2="190.1" y2="236.5" stroke="#1a1a1a" stroke-width="0.95"/>
<line x1="188.1" y1="226.7" x2="192.1" y2="226.7" stroke="#1a1a1a" stroke-width="0.95"/>
<line x1="188.1" y1="236.5" x2="192.1" y2="236.5" stroke="#1a1a1a" stroke-width="0.95"/>
<circle cx="192.5" cy="225.3" r="2.15" fill="none" stroke="#D3294A" stroke-width="1.05"/>
<circle cx="190.1" cy="228.4" r="2.15" fill="none" stroke="#D3294A" stroke-width="1.05"/>
<circle cx="190.1" cy="241.2" r="2.15" fill="none" stroke="#D3294A" stroke-width="1.05"/>
<line x1="200.6" y1="213.5" x2="200.6" y2="220.4" stroke="#1a1a1a" stroke-width="0.95"/>
<line x1="198.6" y1="213.5" x2="202.6" y2="213.5" stroke="#1a1a1a" stroke-width="0.95"/>
<line x1="198.6" y1="220.4" x2="202.6" y2="220.4" stroke="#1a1a1a" stroke-width="0.95"/>
<circle cx="200.6" cy="210.1" r="2.15" fill="none" stroke="#2D6BA6" stroke-width="1.05"/>
<circle cx="198.6" cy="220.9" r="2.15" fill="none" stroke="#2D6BA6" stroke-width="1.05"/>
<circle cx="202.8" cy="219.6" r="2.15" fill="none" stroke="#2D6BA6" stroke-width="1.05"/>
<line x1="181.3" y1="193" x2="181.3" y2="268" stroke="#111" stroke-width="1.15"/>
<line x1="180.7" y1="267.45" x2="209.8" y2="267.45" stroke="#111" stroke-width="1.1"/>
<line x1="177.7" y1="267.4" x2="181.3" y2="267.4" stroke="#111" stroke-width="1"/>
<text x="175.3" y="270.45" font-size="8.9" text-anchor="end" textLength="4.55" lengthAdjust="spacingAndGlyphs">0</text>
<line x1="177.7" y1="247.26" x2="181.3" y2="247.26" stroke="#111" stroke-width="1"/>
<text x="175.3" y="250.31" font-size="8.9" text-anchor="end" textLength="4.55" lengthAdjust="spacingAndGlyphs">2</text>
<line x1="177.7" y1="227.12" x2="181.3" y2="227.12" stroke="#111" stroke-width="1"/>
<text x="175.3" y="230.17" font-size="8.9" text-anchor="end" textLength="4.55" lengthAdjust="spacingAndGlyphs">4</text>
<line x1="177.7" y1="206.98" x2="181.3" y2="206.98" stroke="#111" stroke-width="1"/>
<text x="175.3" y="210.03" font-size="8.9" text-anchor="end" textLength="4.55" lengthAdjust="spacingAndGlyphs">6</text>
<line x1="179.4" y1="257.33" x2="181.3" y2="257.33" stroke="#111" stroke-width="1"/>
<line x1="179.4" y1="237.19" x2="181.3" y2="237.19" stroke="#111" stroke-width="1"/>
<line x1="179.4" y1="217.05" x2="181.3" y2="217.05" stroke="#111" stroke-width="1"/>
<line x1="179.4" y1="196.91" x2="181.3" y2="196.91" stroke="#111" stroke-width="1"/>
<text x="163.8" y="231.6" font-size="8.6" text-anchor="middle" textLength="28.8" lengthAdjust="spacingAndGlyphs" transform="rotate(-90 163.8 231.6)">(10<tspan font-size="5.90" dy="-3.60">3</tspan><tspan dy="3.60">/µL)</tspan></text>
<text x="195.85" y="279.7" font-size="8.2" text-anchor="middle" textLength="46.1" lengthAdjust="spacingAndGlyphs">Lymphocytes</text>
<rect x="272.3" y="214.8" width="7.4" height="52.6" fill="#E3889A" stroke="#DC788D" stroke-width="0.6"/>
<rect x="282.8" y="218.4" width="7" height="49" fill="#88A8C4" stroke="#789BBC" stroke-width="0.6"/>
<line x1="276" y1="209.5" x2="276" y2="219.6" stroke="#1a1a1a" stroke-width="0.95"/>
<line x1="274" y1="209.5" x2="278" y2="209.5" stroke="#1a1a1a" stroke-width="0.95"/>
<line x1="274" y1="219.6" x2="278" y2="219.6" stroke="#1a1a1a" stroke-width="0.95"/>
<circle cx="276" cy="205.7" r="2.15" fill="none" stroke="#D3294A" stroke-width="1.05"/>
<circle cx="276" cy="214.2" r="2.15" fill="none" stroke="#D3294A" stroke-width="1.05"/>
<circle cx="276" cy="223.3" r="2.15" fill="none" stroke="#D3294A" stroke-width="1.05"/>
<line x1="286.3" y1="206.4" x2="286.3" y2="222.2" stroke="#1a1a1a" stroke-width="0.95"/>
<line x1="284.3" y1="206.4" x2="288.3" y2="206.4" stroke="#1a1a1a" stroke-width="0.95"/>
<line x1="284.3" y1="222.2" x2="288.3" y2="222.2" stroke="#1a1a1a" stroke-width="0.95"/>
<circle cx="286.3" cy="205.4" r="2.15" fill="none" stroke="#2D6BA6" stroke-width="1.05"/>
<circle cx="286.3" cy="214.3" r="2.15" fill="none" stroke="#2D6BA6" stroke-width="1.05"/>
<circle cx="286.3" cy="232.1" r="2.15" fill="none" stroke="#2D6BA6" stroke-width="1.05"/>
<line x1="267.3" y1="193" x2="267.3" y2="268" stroke="#111" stroke-width="1.15"/>
<line x1="266.7" y1="267.45" x2="295.5" y2="267.45" stroke="#111" stroke-width="1.1"/>
<line x1="263.7" y1="267.4" x2="267.3" y2="267.4" stroke="#111" stroke-width="1"/>
<text x="261.1" y="270.45" font-size="8.9" text-anchor="end" textLength="4.55" lengthAdjust="spacingAndGlyphs">0</text>
<line x1="263.7" y1="249.87" x2="267.3" y2="249.87" stroke="#111" stroke-width="1"/>
<text x="261.1" y="252.92" font-size="8.9" text-anchor="end" textLength="15.93" lengthAdjust="spacingAndGlyphs">0.02</text>
<line x1="263.7" y1="232.35" x2="267.3" y2="232.35" stroke="#111" stroke-width="1"/>
<text x="261.1" y="235.4" font-size="8.9" text-anchor="end" textLength="15.93" lengthAdjust="spacingAndGlyphs">0.04</text>
<line x1="263.7" y1="214.82" x2="267.3" y2="214.82" stroke="#111" stroke-width="1"/>
<text x="261.1" y="217.88" font-size="8.9" text-anchor="end" textLength="15.93" lengthAdjust="spacingAndGlyphs">0.06</text>
<line x1="263.7" y1="197.3" x2="267.3" y2="197.3" stroke="#111" stroke-width="1"/>
<text x="261.1" y="200.35" font-size="8.9" text-anchor="end" textLength="15.93" lengthAdjust="spacingAndGlyphs">0.08</text>
<text x="238.1" y="231.6" font-size="8.6" text-anchor="middle" textLength="28.8" lengthAdjust="spacingAndGlyphs" transform="rotate(-90 238.1 231.6)">(10<tspan font-size="5.90" dy="-3.60">3</tspan><tspan dy="3.60">/µL)</tspan></text>
<text x="281.3" y="279.7" font-size="8.2" text-anchor="middle" textLength="38.8" lengthAdjust="spacingAndGlyphs">Monocytes</text>
<rect x="345.3" y="210.1" width="7.5" height="57.3" fill="#E3889A" stroke="#DC788D" stroke-width="0.6"/>
<rect x="356.1" y="210.1" width="7.1" height="57.3" fill="#88A8C4" stroke="#789BBC" stroke-width="0.6"/>
<line x1="349.05" y1="208" x2="349.05" y2="210.5" stroke="#1a1a1a" stroke-width="0.95"/>
<line x1="347.05" y1="208" x2="351.05" y2="208" stroke="#1a1a1a" stroke-width="0.95"/>
<line x1="347.05" y1="210.5" x2="351.05" y2="210.5" stroke="#1a1a1a" stroke-width="0.95"/>
<circle cx="346.6" cy="210.1" r="2.15" fill="none" stroke="#D3294A" stroke-width="1.05"/>
<circle cx="348.9" cy="207.5" r="2.15" fill="none" stroke="#D3294A" stroke-width="1.05"/>
<circle cx="351.7" cy="209.3" r="2.15" fill="none" stroke="#D3294A" stroke-width="1.05"/>
<line x1="359.65" y1="208.3" x2="359.65" y2="210.3" stroke="#1a1a1a" stroke-width="0.95"/>
<line x1="357.65" y1="208.3" x2="361.65" y2="208.3" stroke="#1a1a1a" stroke-width="0.95"/>
<line x1="357.65" y1="210.3" x2="361.65" y2="210.3" stroke="#1a1a1a" stroke-width="0.95"/>
<circle cx="356.8" cy="209.5" r="2.15" fill="none" stroke="#2D6BA6" stroke-width="1.05"/>
<circle cx="359.3" cy="207.9" r="2.15" fill="none" stroke="#2D6BA6" stroke-width="1.05"/>
<circle cx="362.3" cy="209.3" r="2.15" fill="none" stroke="#2D6BA6" stroke-width="1.05"/>
<line x1="340.2" y1="193" x2="340.2" y2="268" stroke="#111" stroke-width="1.15"/>
<line x1="339.6" y1="267.45" x2="368.7" y2="267.45" stroke="#111" stroke-width="1.1"/>
<line x1="336.6" y1="267.4" x2="340.2" y2="267.4" stroke="#111" stroke-width="1"/>
<text x="334.6" y="270.45" font-size="8.9" text-anchor="end" textLength="4.55" lengthAdjust="spacingAndGlyphs">0</text>
<line x1="336.6" y1="255.68" x2="340.2" y2="255.68" stroke="#111" stroke-width="1"/>
<text x="334.6" y="258.73" font-size="8.9" text-anchor="end" textLength="4.55" lengthAdjust="spacingAndGlyphs">2</text>
<line x1="336.6" y1="243.97" x2="340.2" y2="243.97" stroke="#111" stroke-width="1"/>
<text x="334.6" y="247.02" font-size="8.9" text-anchor="end" textLength="4.55" lengthAdjust="spacingAndGlyphs">4</text>
<line x1="336.6" y1="232.25" x2="340.2" y2="232.25" stroke="#111" stroke-width="1"/>
<text x="334.6" y="235.3" font-size="8.9" text-anchor="end" textLength="4.55" lengthAdjust="spacingAndGlyphs">6</text>
<line x1="336.6" y1="220.54" x2="340.2" y2="220.54" stroke="#111" stroke-width="1"/>
<text x="334.6" y="223.59" font-size="8.9" text-anchor="end" textLength="4.55" lengthAdjust="spacingAndGlyphs">8</text>
<line x1="336.6" y1="208.82" x2="340.2" y2="208.82" stroke="#111" stroke-width="1"/>
<text x="334.6" y="211.87" font-size="8.9" text-anchor="end" textLength="9.11" lengthAdjust="spacingAndGlyphs">10</text>
<line x1="336.6" y1="197.1" x2="340.2" y2="197.1" stroke="#111" stroke-width="1"/>
<text x="334.6" y="200.15" font-size="8.9" text-anchor="end" textLength="9.11" lengthAdjust="spacingAndGlyphs">12</text>
<text x="320.3" y="231.6" font-size="8.6" text-anchor="middle" textLength="28.8" lengthAdjust="spacingAndGlyphs" transform="rotate(-90 320.3 231.6)">(10<tspan font-size="5.90" dy="-3.60">6</tspan><tspan dy="3.60">/µL)</tspan></text>
<text x="354.45" y="279.7" font-size="8.2" text-anchor="middle" textLength="18.9" lengthAdjust="spacingAndGlyphs">RBCs</text>
<rect x="411.5" y="209.1" width="7.3" height="58.3" fill="#E3889A" stroke="#DC788D" stroke-width="0.6"/>
<rect x="422.4" y="209.7" width="7" height="57.7" fill="#88A8C4" stroke="#789BBC" stroke-width="0.6"/>
<line x1="415.15" y1="207" x2="415.15" y2="209.5" stroke="#1a1a1a" stroke-width="0.95"/>
<line x1="413.15" y1="207" x2="417.15" y2="207" stroke="#1a1a1a" stroke-width="0.95"/>
<line x1="413.15" y1="209.5" x2="417.15" y2="209.5" stroke="#1a1a1a" stroke-width="0.95"/>
<circle cx="413.1" cy="208.8" r="2.15" fill="none" stroke="#D3294A" stroke-width="1.05"/>
<circle cx="415.3" cy="205.8" r="2.15" fill="none" stroke="#D3294A" stroke-width="1.05"/>
<circle cx="417.7" cy="208.6" r="2.15" fill="none" stroke="#D3294A" stroke-width="1.05"/>
<line x1="425.9" y1="208" x2="425.9" y2="210.5" stroke="#1a1a1a" stroke-width="0.95"/>
<line x1="423.9" y1="208" x2="427.9" y2="208" stroke="#1a1a1a" stroke-width="0.95"/>
<line x1="423.9" y1="210.5" x2="427.9" y2="210.5" stroke="#1a1a1a" stroke-width="0.95"/>
<circle cx="423.2" cy="210.1" r="2.15" fill="none" stroke="#2D6BA6" stroke-width="1.05"/>
<circle cx="425.5" cy="207.5" r="2.15" fill="none" stroke="#2D6BA6" stroke-width="1.05"/>
<circle cx="428.5" cy="209" r="2.15" fill="none" stroke="#2D6BA6" stroke-width="1.05"/>
<line x1="406.3" y1="193" x2="406.3" y2="268" stroke="#111" stroke-width="1.15"/>
<line x1="405.7" y1="267.45" x2="434.8" y2="267.45" stroke="#111" stroke-width="1.1"/>
<line x1="402.7" y1="267.4" x2="406.3" y2="267.4" stroke="#111" stroke-width="1"/>
<text x="400.3" y="270.45" font-size="8.9" text-anchor="end" textLength="4.55" lengthAdjust="spacingAndGlyphs">0</text>
<line x1="402.7" y1="243.97" x2="406.3" y2="243.97" stroke="#111" stroke-width="1"/>
<text x="400.3" y="247.02" font-size="8.9" text-anchor="end" textLength="9.11" lengthAdjust="spacingAndGlyphs">20</text>
<line x1="402.7" y1="220.53" x2="406.3" y2="220.53" stroke="#111" stroke-width="1"/>
<text x="400.3" y="223.58" font-size="8.9" text-anchor="end" textLength="9.11" lengthAdjust="spacingAndGlyphs">40</text>
<line x1="402.7" y1="197.1" x2="406.3" y2="197.1" stroke="#111" stroke-width="1"/>
<text x="400.3" y="200.15" font-size="8.9" text-anchor="end" textLength="9.11" lengthAdjust="spacingAndGlyphs">60</text>
<line x1="404.4" y1="255.68" x2="406.3" y2="255.68" stroke="#111" stroke-width="1"/>
<line x1="404.4" y1="232.25" x2="406.3" y2="232.25" stroke="#111" stroke-width="1"/>
<line x1="404.4" y1="208.81" x2="406.3" y2="208.81" stroke="#111" stroke-width="1"/>
<text x="385.1" y="231.7" font-size="8.6" text-anchor="middle" transform="rotate(-90 385.1 231.7)">(%)</text>
<text x="421" y="279.7" font-size="8.2" text-anchor="middle" textLength="15.6" lengthAdjust="spacingAndGlyphs">HCT</text>
<rect x="488.3" y="211" width="7.2" height="56.4" fill="#E3889A" stroke="#DC788D" stroke-width="0.6"/>
<rect x="498.9" y="215.5" width="7" height="51.9" fill="#88A8C4" stroke="#789BBC" stroke-width="0.6"/>
<line x1="491.9" y1="208.5" x2="491.9" y2="211.5" stroke="#1a1a1a" stroke-width="0.95"/>
<line x1="489.9" y1="208.5" x2="493.9" y2="208.5" stroke="#1a1a1a" stroke-width="0.95"/>
<line x1="489.9" y1="211.5" x2="493.9" y2="211.5" stroke="#1a1a1a" stroke-width="0.95"/>
<circle cx="491.8" cy="207.8" r="2.15" fill="none" stroke="#D3294A" stroke-width="1.05"/>
<circle cx="489.6" cy="210.8" r="2.15" fill="none" stroke="#D3294A" stroke-width="1.05"/>
<circle cx="494" cy="210.8" r="2.15" fill="none" stroke="#D3294A" stroke-width="1.05"/>
<line x1="502.4" y1="211.5" x2="502.4" y2="216.5" stroke="#1a1a1a" stroke-width="0.95"/>
<line x1="500.4" y1="211.5" x2="504.4" y2="211.5" stroke="#1a1a1a" stroke-width="0.95"/>
<line x1="500.4" y1="216.5" x2="504.4" y2="216.5" stroke="#1a1a1a" stroke-width="0.95"/>
<circle cx="502.3" cy="209.9" r="2.15" fill="none" stroke="#2D6BA6" stroke-width="1.05"/>
<circle cx="504.8" cy="213.6" r="2.15" fill="none" stroke="#2D6BA6" stroke-width="1.05"/>
<circle cx="500" cy="217.1" r="2.15" fill="none" stroke="#2D6BA6" stroke-width="1.05"/>
<line x1="483.4" y1="193" x2="483.4" y2="268" stroke="#111" stroke-width="1.15"/>
<line x1="482.8" y1="267.45" x2="511.4" y2="267.45" stroke="#111" stroke-width="1.1"/>
<line x1="479.8" y1="267.4" x2="483.4" y2="267.4" stroke="#111" stroke-width="1"/>
<text x="477.4" y="270.45" font-size="8.9" text-anchor="end" textLength="4.55" lengthAdjust="spacingAndGlyphs">0</text>
<line x1="479.8" y1="243.97" x2="483.4" y2="243.97" stroke="#111" stroke-width="1"/>
<text x="477.4" y="247.02" font-size="8.9" text-anchor="end" textLength="13.66" lengthAdjust="spacingAndGlyphs">500</text>
<line x1="479.8" y1="220.53" x2="483.4" y2="220.53" stroke="#111" stroke-width="1"/>
<text x="477.4" y="223.58" font-size="8.9" text-anchor="end" textLength="18.21" lengthAdjust="spacingAndGlyphs">1000</text>
<line x1="479.8" y1="197.1" x2="483.4" y2="197.1" stroke="#111" stroke-width="1"/>
<text x="477.4" y="200.15" font-size="8.9" text-anchor="end" textLength="18.21" lengthAdjust="spacingAndGlyphs">1500</text>
<line x1="481.5" y1="255.68" x2="483.4" y2="255.68" stroke="#111" stroke-width="1"/>
<line x1="481.5" y1="232.25" x2="483.4" y2="232.25" stroke="#111" stroke-width="1"/>
<line x1="481.5" y1="208.82" x2="483.4" y2="208.82" stroke="#111" stroke-width="1"/>
<text x="454.4" y="231.6" font-size="8.6" text-anchor="middle" textLength="28.8" lengthAdjust="spacingAndGlyphs" transform="rotate(-90 454.4 231.6)">(10<tspan font-size="5.90" dy="-3.60">3</tspan><tspan dy="3.60">/µL)</tspan></text>
<text x="497.6" y="279.7" font-size="8.2" text-anchor="middle" textLength="30" lengthAdjust="spacingAndGlyphs">Platelets</text>
<text x="7.4" y="310" font-size="11.6" font-weight="bold" fill="#000">C</text>
<text x="159" y="309.8" font-size="9.7" textLength="201.5" lengthAdjust="spacingAndGlyphs" fill="#111" class="ttl">Bone marrow day 7 after first tamoxifen dose</text>
<circle cx="40.8" cy="325.4" r="2" fill="none" stroke="#D3294A" stroke-width="1.1"/>
<circle cx="105.9" cy="325.4" r="2" fill="none" stroke="#2D6BA6" stroke-width="1.1"/>
<text x="46.2" y="327.8" font-size="6.9" font-style="italic" textLength="49.2" lengthAdjust="spacingAndGlyphs" fill="#2a2a2a">Hbo1<tspan font-size="4.6" dy="-3.3">fl/+</tspan><tspan dy="3.3">;CreER</tspan></text>
<text x="110.8" y="327.8" font-size="6.9" font-style="italic" textLength="49.2" lengthAdjust="spacingAndGlyphs" fill="#2a2a2a">Hbo1<tspan font-size="4.6" dy="-3.3">fl/fl</tspan><tspan dy="3.3">;CreER</tspan></text>
<rect x="44.7" y="358.8" width="7.1" height="58.6" fill="#E3889A" stroke="#DC788D" stroke-width="0.6"/>
<rect x="55.5" y="373.3" width="6.8" height="44.1" fill="#88A8C4" stroke="#789BBC" stroke-width="0.6"/>
<line x1="48.25" y1="355.1" x2="48.25" y2="360.1" stroke="#1a1a1a" stroke-width="0.95"/>
<line x1="46.25" y1="355.1" x2="50.25" y2="355.1" stroke="#1a1a1a" stroke-width="0.95"/>
<line x1="46.25" y1="360.1" x2="50.25" y2="360.1" stroke="#1a1a1a" stroke-width="0.95"/>
<circle cx="48.1" cy="353" r="2.15" fill="none" stroke="#D3294A" stroke-width="1.05"/>
<circle cx="50.8" cy="358.5" r="2.15" fill="none" stroke="#D3294A" stroke-width="1.05"/>
<circle cx="46.1" cy="362.2" r="2.15" fill="none" stroke="#D3294A" stroke-width="1.05"/>
<line x1="58.9" y1="367.6" x2="58.9" y2="376.7" stroke="#1a1a1a" stroke-width="0.95"/>
<line x1="56.9" y1="367.6" x2="60.9" y2="367.6" stroke="#1a1a1a" stroke-width="0.95"/>
<line x1="56.9" y1="376.7" x2="60.9" y2="376.7" stroke="#1a1a1a" stroke-width="0.95"/>
<circle cx="58.6" cy="362.8" r="2.15" fill="none" stroke="#2D6BA6" stroke-width="1.05"/>
<circle cx="58.6" cy="374.3" r="2.15" fill="none" stroke="#2D6BA6" stroke-width="1.05"/>
<circle cx="58.6" cy="378.7" r="2.15" fill="none" stroke="#2D6BA6" stroke-width="1.05"/>
<line x1="39.4" y1="343" x2="39.4" y2="418" stroke="#111" stroke-width="1.15"/>
<line x1="38.8" y1="417.45" x2="67.3" y2="417.45" stroke="#111" stroke-width="1.1"/>
<line x1="35.8" y1="417.4" x2="39.4" y2="417.4" stroke="#111" stroke-width="1"/>
<text x="33.6" y="420.45" font-size="8.9" text-anchor="end" textLength="4.55" lengthAdjust="spacingAndGlyphs">0</text>
<line x1="35.8" y1="399.82" x2="39.4" y2="399.82" stroke="#111" stroke-width="1"/>
<text x="33.6" y="402.88" font-size="8.9" text-anchor="end" textLength="9.11" lengthAdjust="spacingAndGlyphs">10</text>
<line x1="35.8" y1="382.25" x2="39.4" y2="382.25" stroke="#111" stroke-width="1"/>
<text x="33.6" y="385.3" font-size="8.9" text-anchor="end" textLength="9.11" lengthAdjust="spacingAndGlyphs">20</text>
<line x1="35.8" y1="364.67" x2="39.4" y2="364.67" stroke="#111" stroke-width="1"/>
<text x="33.6" y="367.72" font-size="8.9" text-anchor="end" textLength="9.11" lengthAdjust="spacingAndGlyphs">30</text>
<line x1="35.8" y1="347.1" x2="39.4" y2="347.1" stroke="#111" stroke-width="1"/>
<text x="33.6" y="350.15" font-size="8.9" text-anchor="end" textLength="9.11" lengthAdjust="spacingAndGlyphs">40</text>
<text x="18.4" y="381.8" font-size="8.8" text-anchor="middle" textLength="43.5" lengthAdjust="spacingAndGlyphs" transform="rotate(-90 18.4 381.8)">(Cells × 10<tspan font-size="5.81" dy="-3.52">6</tspan><tspan dy="3.52">)</tspan></text>
<text x="53.45" y="429.9" font-size="8.2" text-anchor="middle" textLength="47.5" lengthAdjust="spacingAndGlyphs">Bone marrow</text>
<text x="53.45" y="439.6" font-size="8.2" text-anchor="middle" textLength="33.7" lengthAdjust="spacingAndGlyphs">cellularity</text>
<text x="41.9" y="348.5" font-size="6.9" textLength="23.2" lengthAdjust="spacingAndGlyphs" class="pv">p = 0.06</text>
<rect x="126.6" y="368.3" width="7.1" height="49.1" fill="#E3889A" stroke="#DC788D" stroke-width="0.6"/>
<rect x="136.8" y="403.7" width="7.3" height="13.7" fill="#88A8C4" stroke="#789BBC" stroke-width="0.6"/>
<line x1="130.15" y1="363.8" x2="130.15" y2="371.3" stroke="#1a1a1a" stroke-width="0.95"/>
<line x1="128.15" y1="363.8" x2="132.15" y2="363.8" stroke="#1a1a1a" stroke-width="0.95"/>
<line x1="128.15" y1="371.3" x2="132.15" y2="371.3" stroke="#1a1a1a" stroke-width="0.95"/>
<circle cx="130" cy="360.1" r="2.15" fill="none" stroke="#D3294A" stroke-width="1.05"/>
<circle cx="132.8" cy="370.3" r="2.15" fill="none" stroke="#D3294A" stroke-width="1.05"/>
<circle cx="127.5" cy="372.2" r="2.15" fill="none" stroke="#D3294A" stroke-width="1.05"/>
<line x1="140.45" y1="402.5" x2="140.45" y2="404.5" stroke="#1a1a1a" stroke-width="0.95"/>
<line x1="138.45" y1="402.5" x2="142.45" y2="402.5" stroke="#1a1a1a" stroke-width="0.95"/>
<line x1="138.45" y1="404.5" x2="142.45" y2="404.5" stroke="#1a1a1a" stroke-width="0.95"/>
<circle cx="137.9" cy="403.8" r="2.15" fill="none" stroke="#2D6BA6" stroke-width="1.05"/>
<circle cx="140.7" cy="403.2" r="2.15" fill="none" stroke="#2D6BA6" stroke-width="1.05"/>
<circle cx="143.5" cy="402.9" r="2.15" fill="none" stroke="#2D6BA6" stroke-width="1.05"/>
<line x1="120.6" y1="343" x2="120.6" y2="418" stroke="#111" stroke-width="1.15"/>
<line x1="120" y1="417.45" x2="149.4" y2="417.45" stroke="#111" stroke-width="1.1"/>
<line x1="117" y1="417.4" x2="120.6" y2="417.4" stroke="#111" stroke-width="1"/>
<text x="115" y="420.45" font-size="8.9" text-anchor="end" textLength="4.55" lengthAdjust="spacingAndGlyphs">0</text>
<line x1="117" y1="403.34" x2="120.6" y2="403.34" stroke="#111" stroke-width="1"/>
<text x="115" y="406.39" font-size="8.9" text-anchor="end" textLength="4.55" lengthAdjust="spacingAndGlyphs">5</text>
<line x1="117" y1="389.28" x2="120.6" y2="389.28" stroke="#111" stroke-width="1"/>
<text x="115" y="392.33" font-size="8.9" text-anchor="end" textLength="9.11" lengthAdjust="spacingAndGlyphs">10</text>
<line x1="117" y1="375.22" x2="120.6" y2="375.22" stroke="#111" stroke-width="1"/>
<text x="115" y="378.27" font-size="8.9" text-anchor="end" textLength="9.11" lengthAdjust="spacingAndGlyphs">15</text>
<line x1="117" y1="361.16" x2="120.6" y2="361.16" stroke="#111" stroke-width="1"/>
<text x="115" y="364.21" font-size="8.9" text-anchor="end" textLength="9.11" lengthAdjust="spacingAndGlyphs">20</text>
<line x1="117" y1="347.1" x2="120.6" y2="347.1" stroke="#111" stroke-width="1"/>
<text x="115" y="350.15" font-size="8.9" text-anchor="end" textLength="9.11" lengthAdjust="spacingAndGlyphs">25</text>
<text x="89.2" y="382.3" font-size="10.2" text-anchor="middle" textLength="51" lengthAdjust="spacingAndGlyphs" transform="rotate(-90 89.2 382.3)">Cells per femur</text>
<text x="101" y="382.3" font-size="10.2" text-anchor="middle" textLength="51" lengthAdjust="spacingAndGlyphs" transform="rotate(-90 101 382.3)">and tibia × 10<tspan font-size="6.73" dy="-4.08">4</tspan></text>
<text x="134.85" y="429.9" font-size="8.2" text-anchor="middle" textLength="30.5" lengthAdjust="spacingAndGlyphs">LSK cells</text>
<text x="123.7" y="355.4" font-size="6.9" textLength="29.1" lengthAdjust="spacingAndGlyphs" class="pv">p = 0.0007</text>
<rect x="176.6" y="358.2" width="7.3" height="59.2" fill="#E3889A" stroke="#DC788D" stroke-width="0.6"/>
<rect x="186.9" y="406.9" width="7.8" height="10.5" fill="#88A8C4" stroke="#789BBC" stroke-width="0.6"/>
<line x1="180.25" y1="355" x2="180.25" y2="359.5" stroke="#1a1a1a" stroke-width="0.95"/>
<line x1="178.25" y1="355" x2="182.25" y2="355" stroke="#1a1a1a" stroke-width="0.95"/>
<line x1="178.25" y1="359.5" x2="182.25" y2="359.5" stroke="#1a1a1a" stroke-width="0.95"/>
<circle cx="179.8" cy="355.8" r="2.15" fill="none" stroke="#D3294A" stroke-width="1.05"/>
<circle cx="182.9" cy="354.7" r="2.15" fill="none" stroke="#D3294A" stroke-width="1.05"/>
<circle cx="180.1" cy="361" r="2.15" fill="none" stroke="#D3294A" stroke-width="1.05"/>
<line x1="190.8" y1="405.8" x2="190.8" y2="407.5" stroke="#1a1a1a" stroke-width="0.95"/>
<line x1="188.8" y1="405.8" x2="192.8" y2="405.8" stroke="#1a1a1a" stroke-width="0.95"/>
<line x1="188.8" y1="407.5" x2="192.8" y2="407.5" stroke="#1a1a1a" stroke-width="0.95"/>
<circle cx="187.6" cy="407.4" r="2.15" fill="none" stroke="#2D6BA6" stroke-width="1.05"/>
<circle cx="190.8" cy="406.1" r="2.15" fill="none" stroke="#2D6BA6" stroke-width="1.05"/>
<circle cx="193.7" cy="406.9" r="2.15" fill="none" stroke="#2D6BA6" stroke-width="1.05"/>
<line x1="171.4" y1="343" x2="171.4" y2="418" stroke="#111" stroke-width="1.15"/>
<line x1="170.8" y1="417.45" x2="199.9" y2="417.45" stroke="#111" stroke-width="1.1"/>
<line x1="167.8" y1="417.4" x2="171.4" y2="417.4" stroke="#111" stroke-width="1"/>
<text x="165.8" y="420.45" font-size="8.9" text-anchor="end" textLength="4.55" lengthAdjust="spacingAndGlyphs">0</text>
<line x1="167.8" y1="389.25" x2="171.4" y2="389.25" stroke="#111" stroke-width="1"/>
<text x="165.8" y="392.3" font-size="8.9" text-anchor="end" textLength="4.55" lengthAdjust="spacingAndGlyphs">1</text>
<line x1="167.8" y1="361.1" x2="171.4" y2="361.1" stroke="#111" stroke-width="1"/>
<text x="165.8" y="364.15" font-size="8.9" text-anchor="end" textLength="4.55" lengthAdjust="spacingAndGlyphs">2</text>
<line x1="169.5" y1="403.32" x2="171.4" y2="403.32" stroke="#111" stroke-width="1"/>
<line x1="169.5" y1="375.17" x2="171.4" y2="375.17" stroke="#111" stroke-width="1"/>
<line x1="169.5" y1="347.02" x2="171.4" y2="347.02" stroke="#111" stroke-width="1"/>
<text x="187" y="429.9" font-size="8.2" text-anchor="middle" textLength="23" lengthAdjust="spacingAndGlyphs">HSC<tspan font-size="5.90" dy="-3.40">DN</tspan></text>
<text x="173.8" y="350.7" font-size="6.9" textLength="26.1" lengthAdjust="spacingAndGlyphs" class="pv">p &lt; 0.001</text>
<rect x="230.3" y="382.7" width="6.9" height="34.7" fill="#E3889A" stroke="#DC788D" stroke-width="0.6"/>
<rect x="240.4" y="411.5" width="7.4" height="5.9" fill="#88A8C4" stroke="#789BBC" stroke-width="0.6"/>
<rect x="259.3" y="368.7" width="6.9" height="48.7" fill="#E3889A" stroke="#DC788D" stroke-width="0.6"/>
<rect x="269.6" y="398.3" width="6.9" height="19.1" fill="#88A8C4" stroke="#789BBC" stroke-width="0.6"/>
<line x1="233.75" y1="377.3" x2="233.75" y2="383.5" stroke="#1a1a1a" stroke-width="0.95"/>
<line x1="231.75" y1="377.3" x2="235.75" y2="377.3" stroke="#1a1a1a" stroke-width="0.95"/>
<line x1="231.75" y1="383.5" x2="235.75" y2="383.5" stroke="#1a1a1a" stroke-width="0.95"/>
<circle cx="233.6" cy="374.3" r="2.15" fill="none" stroke="#D3294A" stroke-width="1.05"/>
<circle cx="231.6" cy="383.7" r="2.15" fill="none" stroke="#D3294A" stroke-width="1.05"/>
<circle cx="235.8" cy="383.3" r="2.15" fill="none" stroke="#D3294A" stroke-width="1.05"/>
<line x1="244.1" y1="409.5" x2="244.1" y2="412.5" stroke="#1a1a1a" stroke-width="0.95"/>
<line x1="242.1" y1="409.5" x2="246.1" y2="409.5" stroke="#1a1a1a" stroke-width="0.95"/>
<line x1="242.1" y1="412.5" x2="246.1" y2="412.5" stroke="#1a1a1a" stroke-width="0.95"/>
<circle cx="244.2" cy="408.9" r="2.15" fill="none" stroke="#2D6BA6" stroke-width="1.05"/>
<circle cx="242.3" cy="412.5" r="2.15" fill="none" stroke="#2D6BA6" stroke-width="1.05"/>
<circle cx="246.4" cy="411.9" r="2.15" fill="none" stroke="#2D6BA6" stroke-width="1.05"/>
<line x1="262.75" y1="362.3" x2="262.75" y2="373.4" stroke="#1a1a1a" stroke-width="0.95"/>
<line x1="260.75" y1="362.3" x2="264.75" y2="362.3" stroke="#1a1a1a" stroke-width="0.95"/>
<line x1="260.75" y1="373.4" x2="264.75" y2="373.4" stroke="#1a1a1a" stroke-width="0.95"/>
<circle cx="262.8" cy="356.9" r="2.15" fill="none" stroke="#D3294A" stroke-width="1.05"/>
<circle cx="264.8" cy="371.4" r="2.15" fill="none" stroke="#D3294A" stroke-width="1.05"/>
<circle cx="260.9" cy="375.4" r="2.15" fill="none" stroke="#D3294A" stroke-width="1.05"/>
<line x1="273.05" y1="396.8" x2="273.05" y2="399.2" stroke="#1a1a1a" stroke-width="0.95"/>
<line x1="271.05" y1="396.8" x2="275.05" y2="396.8" stroke="#1a1a1a" stroke-width="0.95"/>
<line x1="271.05" y1="399.2" x2="275.05" y2="399.2" stroke="#1a1a1a" stroke-width="0.95"/>
<circle cx="272.6" cy="396.3" r="2.15" fill="none" stroke="#2D6BA6" stroke-width="1.05"/>
<circle cx="275.4" cy="398" r="2.15" fill="none" stroke="#2D6BA6" stroke-width="1.05"/>
<circle cx="271" cy="399.7" r="2.15" fill="none" stroke="#2D6BA6" stroke-width="1.05"/>
<line x1="225.1" y1="343" x2="225.1" y2="418" stroke="#111" stroke-width="1.15"/>
<line x1="224.5" y1="417.45" x2="281.8" y2="417.45" stroke="#111" stroke-width="1.1"/>
<line x1="221.5" y1="417.4" x2="225.1" y2="417.4" stroke="#111" stroke-width="1"/>
<text x="219.5" y="420.45" font-size="8.9" text-anchor="end" textLength="4.55" lengthAdjust="spacingAndGlyphs">0</text>
<line x1="221.5" y1="389.3" x2="225.1" y2="389.3" stroke="#111" stroke-width="1"/>
<text x="219.5" y="392.35" font-size="8.9" text-anchor="end" textLength="4.55" lengthAdjust="spacingAndGlyphs">5</text>
<line x1="221.5" y1="361.2" x2="225.1" y2="361.2" stroke="#111" stroke-width="1"/>
<text x="219.5" y="364.25" font-size="8.9" text-anchor="end" textLength="9.11" lengthAdjust="spacingAndGlyphs">10</text>
<line x1="223.2" y1="403.35" x2="225.1" y2="403.35" stroke="#111" stroke-width="1"/>
<line x1="223.2" y1="375.25" x2="225.1" y2="375.25" stroke="#111" stroke-width="1"/>
<line x1="223.2" y1="347.15" x2="225.1" y2="347.15" stroke="#111" stroke-width="1"/>
<text x="238.9" y="429.9" font-size="8.2" text-anchor="middle" textLength="26.8" lengthAdjust="spacingAndGlyphs">ST-HSC</text>
<text x="268" y="429.9" font-size="8.2" text-anchor="middle" textLength="16" lengthAdjust="spacingAndGlyphs">MPP</text>
<text x="227.9" y="370.2" font-size="6.9" textLength="26" lengthAdjust="spacingAndGlyphs" class="pv">p &lt; 0.001</text>
<text x="254.9" y="352.2" font-size="6.9" textLength="26.5" lengthAdjust="spacingAndGlyphs" class="pv">p = 0.006</text>
<rect x="314.5" y="372.2" width="7.1" height="45.2" fill="#E3889A" stroke="#DC788D" stroke-width="0.6"/>
<rect x="325" y="395.1" width="6.5" height="22.3" fill="#88A8C4" stroke="#789BBC" stroke-width="0.6"/>
<rect x="343.6" y="378.3" width="6.9" height="39.1" fill="#E3889A" stroke="#DC788D" stroke-width="0.6"/>
<rect x="353.7" y="368.5" width="7" height="48.9" fill="#88A8C4" stroke="#789BBC" stroke-width="0.6"/>
<line x1="318.05" y1="369.9" x2="318.05" y2="372.9" stroke="#1a1a1a" stroke-width="0.95"/>
<line x1="316.05" y1="369.9" x2="320.05" y2="369.9" stroke="#1a1a1a" stroke-width="0.95"/>
<line x1="316.05" y1="372.9" x2="320.05" y2="372.9" stroke="#1a1a1a" stroke-width="0.95"/>
<circle cx="317.9" cy="367.9" r="2.15" fill="none" stroke="#D3294A" stroke-width="1.05"/>
<circle cx="320.3" cy="370.9" r="2.15" fill="none" stroke="#D3294A" stroke-width="1.05"/>
<circle cx="315.9" cy="374.3" r="2.15" fill="none" stroke="#D3294A" stroke-width="1.05"/>
<line x1="328.25" y1="391.7" x2="328.25" y2="396.3" stroke="#1a1a1a" stroke-width="0.95"/>
<line x1="326.25" y1="391.7" x2="330.25" y2="391.7" stroke="#1a1a1a" stroke-width="0.95"/>
<line x1="326.25" y1="396.3" x2="330.25" y2="396.3" stroke="#1a1a1a" stroke-width="0.95"/>
<circle cx="330.3" cy="390.2" r="2.15" fill="none" stroke="#2D6BA6" stroke-width="1.05"/>
<circle cx="328" cy="392.2" r="2.15" fill="none" stroke="#2D6BA6" stroke-width="1.05"/>
<circle cx="328" cy="398.3" r="2.15" fill="none" stroke="#2D6BA6" stroke-width="1.05"/>
<line x1="347.05" y1="374.5" x2="347.05" y2="380.5" stroke="#1a1a1a" stroke-width="0.95"/>
<line x1="345.05" y1="374.5" x2="349.05" y2="374.5" stroke="#1a1a1a" stroke-width="0.95"/>
<line x1="345.05" y1="380.5" x2="349.05" y2="380.5" stroke="#1a1a1a" stroke-width="0.95"/>
<circle cx="348.8" cy="372.6" r="2.15" fill="none" stroke="#D3294A" stroke-width="1.05"/>
<circle cx="346.5" cy="375.5" r="2.15" fill="none" stroke="#D3294A" stroke-width="1.05"/>
<circle cx="347" cy="383.6" r="2.15" fill="none" stroke="#D3294A" stroke-width="1.05"/>
<line x1="357.2" y1="358.2" x2="357.2" y2="376.5" stroke="#1a1a1a" stroke-width="0.95"/>
<line x1="355.2" y1="358.2" x2="359.2" y2="358.2" stroke="#1a1a1a" stroke-width="0.95"/>
<line x1="355.2" y1="376.5" x2="359.2" y2="376.5" stroke="#1a1a1a" stroke-width="0.95"/>
<circle cx="356.9" cy="350.3" r="2.15" fill="none" stroke="#2D6BA6" stroke-width="1.05"/>
<circle cx="356.9" cy="370.9" r="2.15" fill="none" stroke="#2D6BA6" stroke-width="1.05"/>
<circle cx="356.9" cy="381.1" r="2.15" fill="none" stroke="#2D6BA6" stroke-width="1.05"/>
<line x1="309.4" y1="343" x2="309.4" y2="418" stroke="#111" stroke-width="1.15"/>
<line x1="308.8" y1="417.45" x2="365.9" y2="417.45" stroke="#111" stroke-width="1.1"/>
<line x1="305.8" y1="417.4" x2="309.4" y2="417.4" stroke="#111" stroke-width="1"/>
<text x="304.2" y="420.45" font-size="8.9" text-anchor="end" textLength="4.55" lengthAdjust="spacingAndGlyphs">0</text>
<line x1="305.8" y1="403.38" x2="309.4" y2="403.38" stroke="#111" stroke-width="1"/>
<text x="304.2" y="406.43" font-size="8.9" text-anchor="end" textLength="11.38" lengthAdjust="spacingAndGlyphs">0.2</text>
<line x1="305.8" y1="389.36" x2="309.4" y2="389.36" stroke="#111" stroke-width="1"/>
<text x="304.2" y="392.41" font-size="8.9" text-anchor="end" textLength="11.38" lengthAdjust="spacingAndGlyphs">0.4</text>
<line x1="305.8" y1="375.34" x2="309.4" y2="375.34" stroke="#111" stroke-width="1"/>
<text x="304.2" y="378.39" font-size="8.9" text-anchor="end" textLength="11.38" lengthAdjust="spacingAndGlyphs">0.6</text>
<line x1="305.8" y1="361.32" x2="309.4" y2="361.32" stroke="#111" stroke-width="1"/>
<text x="304.2" y="364.37" font-size="8.9" text-anchor="end" textLength="11.38" lengthAdjust="spacingAndGlyphs">0.8</text>
<line x1="305.8" y1="347.3" x2="309.4" y2="347.3" stroke="#111" stroke-width="1"/>
<text x="304.2" y="350.35" font-size="8.9" text-anchor="end" textLength="11.38" lengthAdjust="spacingAndGlyphs">1.0</text>
<text x="321.2" y="429.9" font-size="8.2" text-anchor="middle" textLength="31.4" lengthAdjust="spacingAndGlyphs">HSC<tspan font-size="5.80" dy="-3.50">SLAM</tspan></text>
<text x="354" y="429.9" font-size="8.2" text-anchor="middle" textLength="31.6" lengthAdjust="spacingAndGlyphs">MPP<tspan font-size="5.80" dy="-3.50">SLAM</tspan></text>
<text x="312" y="363.3" font-size="6.9" textLength="26.6" lengthAdjust="spacingAndGlyphs" class="pv">p = 0.002</text>
<rect x="400.5" y="366.8" width="7" height="50.6" fill="#E3889A" stroke="#DC788D" stroke-width="0.6"/>
<rect x="411.1" y="402.8" width="6.9" height="14.6" fill="#88A8C4" stroke="#789BBC" stroke-width="0.6"/>
<rect x="429.6" y="393.3" width="6.6" height="24.1" fill="#E3889A" stroke="#DC788D" stroke-width="0.6"/>
<rect x="439.6" y="413.8" width="7.2" height="3.6" fill="#88A8C4" stroke="#789BBC" stroke-width="0.6"/>
<line x1="404" y1="360.6" x2="404" y2="370.1" stroke="#1a1a1a" stroke-width="0.95"/>
<line x1="402" y1="360.6" x2="406" y2="360.6" stroke="#1a1a1a" stroke-width="0.95"/>
<line x1="402" y1="370.1" x2="406" y2="370.1" stroke="#1a1a1a" stroke-width="0.95"/>
<circle cx="403.8" cy="355" r="2.15" fill="none" stroke="#D3294A" stroke-width="1.05"/>
<circle cx="406" cy="370.3" r="2.15" fill="none" stroke="#D3294A" stroke-width="1.05"/>
<circle cx="401.9" cy="372.9" r="2.15" fill="none" stroke="#D3294A" stroke-width="1.05"/>
<line x1="414.55" y1="401.5" x2="414.55" y2="403.5" stroke="#1a1a1a" stroke-width="0.95"/>
<line x1="412.55" y1="401.5" x2="416.55" y2="401.5" stroke="#1a1a1a" stroke-width="0.95"/>
<line x1="412.55" y1="403.5" x2="416.55" y2="403.5" stroke="#1a1a1a" stroke-width="0.95"/>
<circle cx="412" cy="402.5" r="2.15" fill="none" stroke="#2D6BA6" stroke-width="1.05"/>
<circle cx="414.5" cy="401.6" r="2.15" fill="none" stroke="#2D6BA6" stroke-width="1.05"/>
<circle cx="417.2" cy="402.5" r="2.15" fill="none" stroke="#2D6BA6" stroke-width="1.05"/>
<line x1="432.9" y1="391" x2="432.9" y2="394" stroke="#1a1a1a" stroke-width="0.95"/>
<line x1="430.9" y1="391" x2="434.9" y2="391" stroke="#1a1a1a" stroke-width="0.95"/>
<line x1="430.9" y1="394" x2="434.9" y2="394" stroke="#1a1a1a" stroke-width="0.95"/>
<circle cx="430.4" cy="393.8" r="2.15" fill="none" stroke="#D3294A" stroke-width="1.05"/>
<circle cx="432.6" cy="390" r="2.15" fill="none" stroke="#D3294A" stroke-width="1.05"/>
<circle cx="435.4" cy="391.9" r="2.15" fill="none" stroke="#D3294A" stroke-width="1.05"/>
<line x1="443.2" y1="412.5" x2="443.2" y2="414.5" stroke="#1a1a1a" stroke-width="0.95"/>
<line x1="441.2" y1="412.5" x2="445.2" y2="412.5" stroke="#1a1a1a" stroke-width="0.95"/>
<line x1="441.2" y1="414.5" x2="445.2" y2="414.5" stroke="#1a1a1a" stroke-width="0.95"/>
<circle cx="440.4" cy="414.5" r="2.15" fill="none" stroke="#2D6BA6" stroke-width="1.05"/>
<circle cx="442.6" cy="412.5" r="2.15" fill="none" stroke="#2D6BA6" stroke-width="1.05"/>
<circle cx="445.4" cy="414.5" r="2.15" fill="none" stroke="#2D6BA6" stroke-width="1.05"/>
<line x1="395.7" y1="343" x2="395.7" y2="418" stroke="#111" stroke-width="1.15"/>
<line x1="395.1" y1="417.45" x2="451.9" y2="417.45" stroke="#111" stroke-width="1.1"/>
<line x1="392.1" y1="417.4" x2="395.7" y2="417.4" stroke="#111" stroke-width="1"/>
<text x="389.8" y="420.45" font-size="8.9" text-anchor="end" textLength="4.55" lengthAdjust="spacingAndGlyphs">0</text>
<line x1="392.1" y1="393.96" x2="395.7" y2="393.96" stroke="#111" stroke-width="1"/>
<text x="389.8" y="397.01" font-size="8.9" text-anchor="end" textLength="4.55" lengthAdjust="spacingAndGlyphs">5</text>
<line x1="392.1" y1="370.53" x2="395.7" y2="370.53" stroke="#111" stroke-width="1"/>
<text x="389.8" y="373.58" font-size="8.9" text-anchor="end" textLength="9.11" lengthAdjust="spacingAndGlyphs">10</text>
<line x1="392.1" y1="347.09" x2="395.7" y2="347.09" stroke="#111" stroke-width="1"/>
<text x="389.8" y="350.14" font-size="8.9" text-anchor="end" textLength="9.11" lengthAdjust="spacingAndGlyphs">15</text>
<line x1="393.8" y1="405.68" x2="395.7" y2="405.68" stroke="#111" stroke-width="1"/>
<line x1="393.8" y1="382.25" x2="395.7" y2="382.25" stroke="#111" stroke-width="1"/>
<line x1="393.8" y1="358.81" x2="395.7" y2="358.81" stroke="#111" stroke-width="1"/>
<text x="409" y="429.9" font-size="8.2" text-anchor="middle" textLength="19.6" lengthAdjust="spacingAndGlyphs">HPC1</text>
<text x="438.5" y="429.9" font-size="8.2" text-anchor="middle" textLength="20" lengthAdjust="spacingAndGlyphs">HPC2</text>
<text x="398.1" y="350.3" font-size="6.9" textLength="26.1" lengthAdjust="spacingAndGlyphs" class="pv">p = 0.003</text>
<text x="425.1" y="386" font-size="6.9" textLength="27.9" lengthAdjust="spacingAndGlyphs" class="pv">p &lt; 0.001</text>
<rect x="482.8" y="364.8" width="7" height="52.6" fill="#E3889A" stroke="#DC788D" stroke-width="0.6"/>
<rect x="492.8" y="412.7" width="7.8" height="4.7" fill="#88A8C4" stroke="#789BBC" stroke-width="0.6"/>
<line x1="486.3" y1="358.4" x2="486.3" y2="369.5" stroke="#1a1a1a" stroke-width="0.95"/>
<line x1="484.3" y1="358.4" x2="488.3" y2="358.4" stroke="#1a1a1a" stroke-width="0.95"/>
<line x1="484.3" y1="369.5" x2="488.3" y2="369.5" stroke="#1a1a1a" stroke-width="0.95"/>
<circle cx="486.3" cy="355" r="2.15" fill="none" stroke="#D3294A" stroke-width="1.05"/>
<circle cx="486.3" cy="362.1" r="2.15" fill="none" stroke="#D3294A" stroke-width="1.05"/>
<circle cx="486.3" cy="374.3" r="2.15" fill="none" stroke="#D3294A" stroke-width="1.05"/>
<line x1="496.7" y1="410.5" x2="496.7" y2="413.5" stroke="#1a1a1a" stroke-width="0.95"/>
<line x1="494.7" y1="410.5" x2="498.7" y2="410.5" stroke="#1a1a1a" stroke-width="0.95"/>
<line x1="494.7" y1="413.5" x2="498.7" y2="413.5" stroke="#1a1a1a" stroke-width="0.95"/>
<circle cx="496.8" cy="408.3" r="2.15" fill="none" stroke="#2D6BA6" stroke-width="1.05"/>
<circle cx="494.5" cy="411.9" r="2.15" fill="none" stroke="#2D6BA6" stroke-width="1.05"/>
<circle cx="499.2" cy="411.9" r="2.15" fill="none" stroke="#2D6BA6" stroke-width="1.05"/>
<line x1="477.4" y1="343" x2="477.4" y2="418" stroke="#111" stroke-width="1.15"/>
<line x1="476.8" y1="417.45" x2="505.9" y2="417.45" stroke="#111" stroke-width="1.1"/>
<line x1="473.8" y1="417.4" x2="477.4" y2="417.4" stroke="#111" stroke-width="1"/>
<text x="472.4" y="420.45" font-size="8.9" text-anchor="end" textLength="4.55" lengthAdjust="spacingAndGlyphs">0</text>
<line x1="473.8" y1="399.82" x2="477.4" y2="399.82" stroke="#111" stroke-width="1"/>
<text x="472.4" y="402.88" font-size="8.9" text-anchor="end" textLength="9.11" lengthAdjust="spacingAndGlyphs">10</text>
<line x1="473.8" y1="382.25" x2="477.4" y2="382.25" stroke="#111" stroke-width="1"/>
<text x="472.4" y="385.3" font-size="8.9" text-anchor="end" textLength="9.11" lengthAdjust="spacingAndGlyphs">20</text>
<line x1="473.8" y1="364.67" x2="477.4" y2="364.67" stroke="#111" stroke-width="1"/>
<text x="472.4" y="367.72" font-size="8.9" text-anchor="end" textLength="9.11" lengthAdjust="spacingAndGlyphs">30</text>
<line x1="473.8" y1="347.1" x2="477.4" y2="347.1" stroke="#111" stroke-width="1"/>
<text x="472.4" y="350.15" font-size="8.9" text-anchor="end" textLength="9.11" lengthAdjust="spacingAndGlyphs">40</text>
<text x="492.3" y="429.9" font-size="8.2" text-anchor="middle" textLength="40.8" lengthAdjust="spacingAndGlyphs">Progenitors</text>
<text x="480.2" y="350.7" font-size="6.9" textLength="26" lengthAdjust="spacingAndGlyphs" class="pv">p = 0.001</text>
<text x="7.4" y="466.7" font-size="11.6" font-weight="bold" fill="#000">D</text>
<text x="151.9" y="467.1" font-size="9.7" textLength="215.5" lengthAdjust="spacingAndGlyphs" fill="#111" class="ttl">Peripheral blood day 7 after first tamoxifen dose</text>
<circle cx="38.6" cy="482.3" r="2" fill="none" stroke="#D3294A" stroke-width="1.1"/>
<circle cx="102.7" cy="482.3" r="2" fill="none" stroke="#2D6BA6" stroke-width="1.1"/>
<text x="44" y="484.7" font-size="6.9" font-style="italic" textLength="49.3" lengthAdjust="spacingAndGlyphs" fill="#2a2a2a">Hbo1<tspan font-size="4.6" dy="-3.3">fl/+</tspan><tspan dy="3.3">;CreER</tspan></text>
<text x="108.6" y="484.7" font-size="6.9" font-style="italic" textLength="47.9" lengthAdjust="spacingAndGlyphs" fill="#2a2a2a">Hbo1<tspan font-size="4.6" dy="-3.3">fl/fl</tspan><tspan dy="3.3">;CreER</tspan></text>
<rect x="42.1" y="528.1" width="7.2" height="45" fill="#E3889A" stroke="#DC788D" stroke-width="0.6"/>
<rect x="52.4" y="508.4" width="7.4" height="64.7" fill="#88A8C4" stroke="#789BBC" stroke-width="0.6"/>
<line x1="45.7" y1="522.1" x2="45.7" y2="531.6" stroke="#1a1a1a" stroke-width="0.95"/>
<line x1="43.7" y1="522.1" x2="47.7" y2="522.1" stroke="#1a1a1a" stroke-width="0.95"/>
<line x1="43.7" y1="531.6" x2="47.7" y2="531.6" stroke="#1a1a1a" stroke-width="0.95"/>
<circle cx="45.5" cy="517.1" r="2.15" fill="none" stroke="#D3294A" stroke-width="1.05"/>
<circle cx="43.5" cy="532.3" r="2.15" fill="none" stroke="#D3294A" stroke-width="1.05"/>
<circle cx="47.8" cy="530.8" r="2.15" fill="none" stroke="#D3294A" stroke-width="1.05"/>
<line x1="56.1" y1="501.5" x2="56.1" y2="513.3" stroke="#1a1a1a" stroke-width="0.95"/>
<line x1="54.1" y1="501.5" x2="58.1" y2="501.5" stroke="#1a1a1a" stroke-width="0.95"/>
<line x1="54.1" y1="513.3" x2="58.1" y2="513.3" stroke="#1a1a1a" stroke-width="0.95"/>
<circle cx="53.6" cy="499.2" r="2.15" fill="none" stroke="#2D6BA6" stroke-width="1.05"/>
<circle cx="55.9" cy="503.8" r="2.15" fill="none" stroke="#2D6BA6" stroke-width="1.05"/>
<circle cx="55.9" cy="519.2" r="2.15" fill="none" stroke="#2D6BA6" stroke-width="1.05"/>
<line x1="36.7" y1="498.7" x2="36.7" y2="573.7" stroke="#111" stroke-width="1.15"/>
<line x1="36.1" y1="573.45" x2="65.1" y2="573.45" stroke="#111" stroke-width="1.1"/>
<line x1="33.1" y1="573.1" x2="36.7" y2="573.1" stroke="#111" stroke-width="1"/>
<text x="30.7" y="576.15" font-size="8.9" text-anchor="end" textLength="4.55" lengthAdjust="spacingAndGlyphs">0</text>
<line x1="33.1" y1="555.42" x2="36.7" y2="555.42" stroke="#111" stroke-width="1"/>
<text x="30.7" y="558.47" font-size="8.9" text-anchor="end" textLength="4.55" lengthAdjust="spacingAndGlyphs">2</text>
<line x1="33.1" y1="537.74" x2="36.7" y2="537.74" stroke="#111" stroke-width="1"/>
<text x="30.7" y="540.79" font-size="8.9" text-anchor="end" textLength="4.55" lengthAdjust="spacingAndGlyphs">4</text>
<line x1="33.1" y1="520.06" x2="36.7" y2="520.06" stroke="#111" stroke-width="1"/>
<text x="30.7" y="523.11" font-size="8.9" text-anchor="end" textLength="4.55" lengthAdjust="spacingAndGlyphs">6</text>
<line x1="33.1" y1="502.38" x2="36.7" y2="502.38" stroke="#111" stroke-width="1"/>
<text x="30.7" y="505.43" font-size="8.9" text-anchor="end" textLength="4.55" lengthAdjust="spacingAndGlyphs">8</text>
<text x="18.8" y="537.7" font-size="8.6" text-anchor="middle" textLength="28.8" lengthAdjust="spacingAndGlyphs" transform="rotate(-90 18.8 537.7)">(10<tspan font-size="5.90" dy="-3.60">3</tspan><tspan dy="3.60">/µL)</tspan></text>
<text x="51.1" y="585.4" font-size="8.2" text-anchor="middle" textLength="21.4" lengthAdjust="spacingAndGlyphs">WBCs</text>
<rect x="114.8" y="543.5" width="7.2" height="29.6" fill="#E3889A" stroke="#DC788D" stroke-width="0.6"/>
<rect x="125.4" y="532.3" width="7" height="40.8" fill="#88A8C4" stroke="#789BBC" stroke-width="0.6"/>
<line x1="118.4" y1="538.5" x2="118.4" y2="546.4" stroke="#1a1a1a" stroke-width="0.95"/>
<line x1="116.4" y1="538.5" x2="120.4" y2="538.5" stroke="#1a1a1a" stroke-width="0.95"/>
<line x1="116.4" y1="546.4" x2="120.4" y2="546.4" stroke="#1a1a1a" stroke-width="0.95"/>
<circle cx="120.5" cy="537.3" r="2.15" fill="none" stroke="#D3294A" stroke-width="1.05"/>
<circle cx="118.3" cy="540.2" r="2.15" fill="none" stroke="#D3294A" stroke-width="1.05"/>
<circle cx="118.3" cy="550.1" r="2.15" fill="none" stroke="#D3294A" stroke-width="1.05"/>
<line x1="128.9" y1="523.3" x2="128.9" y2="537.7" stroke="#1a1a1a" stroke-width="0.95"/>
<line x1="126.9" y1="523.3" x2="130.9" y2="523.3" stroke="#1a1a1a" stroke-width="0.95"/>
<line x1="126.9" y1="537.7" x2="130.9" y2="537.7" stroke="#1a1a1a" stroke-width="0.95"/>
<circle cx="128.5" cy="515.7" r="2.15" fill="none" stroke="#2D6BA6" stroke-width="1.05"/>
<circle cx="126.2" cy="539.8" r="2.15" fill="none" stroke="#2D6BA6" stroke-width="1.05"/>
<circle cx="131.3" cy="537.4" r="2.15" fill="none" stroke="#2D6BA6" stroke-width="1.05"/>
<line x1="109.7" y1="498.7" x2="109.7" y2="573.7" stroke="#111" stroke-width="1.15"/>
<line x1="109.1" y1="573.45" x2="137.6" y2="573.45" stroke="#111" stroke-width="1.1"/>
<line x1="106.1" y1="573.1" x2="109.7" y2="573.1" stroke="#111" stroke-width="1"/>
<text x="104.1" y="576.15" font-size="8.9" text-anchor="end" textLength="4.55" lengthAdjust="spacingAndGlyphs">0</text>
<line x1="106.1" y1="558.96" x2="109.7" y2="558.96" stroke="#111" stroke-width="1"/>
<text x="104.1" y="562.01" font-size="8.9" text-anchor="end" textLength="11.38" lengthAdjust="spacingAndGlyphs">0.2</text>
<line x1="106.1" y1="544.82" x2="109.7" y2="544.82" stroke="#111" stroke-width="1"/>
<text x="104.1" y="547.87" font-size="8.9" text-anchor="end" textLength="11.38" lengthAdjust="spacingAndGlyphs">0.4</text>
<line x1="106.1" y1="530.68" x2="109.7" y2="530.68" stroke="#111" stroke-width="1"/>
<text x="104.1" y="533.73" font-size="8.9" text-anchor="end" textLength="11.38" lengthAdjust="spacingAndGlyphs">0.6</text>
<line x1="106.1" y1="516.54" x2="109.7" y2="516.54" stroke="#111" stroke-width="1"/>
<text x="104.1" y="519.59" font-size="8.9" text-anchor="end" textLength="11.38" lengthAdjust="spacingAndGlyphs">0.8</text>
<line x1="106.1" y1="502.4" x2="109.7" y2="502.4" stroke="#111" stroke-width="1"/>
<text x="104.1" y="505.45" font-size="8.9" text-anchor="end" textLength="4.55" lengthAdjust="spacingAndGlyphs">1</text>
<text x="85.1" y="537.7" font-size="8.6" text-anchor="middle" textLength="28.8" lengthAdjust="spacingAndGlyphs" transform="rotate(-90 85.1 537.7)">(10<tspan font-size="5.90" dy="-3.60">3</tspan><tspan dy="3.60">/µL)</tspan></text>
<text x="124.05" y="585.4" font-size="8.2" text-anchor="middle" textLength="41.3" lengthAdjust="spacingAndGlyphs">Neutrophils</text>
<rect x="187" y="533.5" width="7.5" height="39.6" fill="#E3889A" stroke="#DC788D" stroke-width="0.6"/>
<rect x="197.5" y="515.5" width="7.2" height="57.6" fill="#88A8C4" stroke="#789BBC" stroke-width="0.6"/>
<line x1="190.75" y1="527.6" x2="190.75" y2="536.6" stroke="#1a1a1a" stroke-width="0.95"/>
<line x1="188.75" y1="527.6" x2="192.75" y2="527.6" stroke="#1a1a1a" stroke-width="0.95"/>
<line x1="188.75" y1="536.6" x2="192.75" y2="536.6" stroke="#1a1a1a" stroke-width="0.95"/>
<circle cx="190.6" cy="523" r="2.15" fill="none" stroke="#D3294A" stroke-width="1.05"/>
<circle cx="188.6" cy="537.2" r="2.15" fill="none" stroke="#D3294A" stroke-width="1.05"/>
<circle cx="193.1" cy="535.7" r="2.15" fill="none" stroke="#D3294A" stroke-width="1.05"/>
<line x1="201.1" y1="510.5" x2="201.1" y2="519.6" stroke="#1a1a1a" stroke-width="0.95"/>
<line x1="199.1" y1="510.5" x2="203.1" y2="510.5" stroke="#1a1a1a" stroke-width="0.95"/>
<line x1="199.1" y1="519.6" x2="203.1" y2="519.6" stroke="#1a1a1a" stroke-width="0.95"/>
<circle cx="201.3" cy="509.8" r="2.15" fill="none" stroke="#2D6BA6" stroke-width="1.05"/>
<circle cx="203.6" cy="508.1" r="2.15" fill="none" stroke="#2D6BA6" stroke-width="1.05"/>
<circle cx="201.5" cy="525" r="2.15" fill="none" stroke="#2D6BA6" stroke-width="1.05"/>
<line x1="181.9" y1="498.7" x2="181.9" y2="573.7" stroke="#111" stroke-width="1.15"/>
<line x1="181.3" y1="573.45" x2="210.3" y2="573.45" stroke="#111" stroke-width="1.1"/>
<line x1="178.3" y1="573.1" x2="181.9" y2="573.1" stroke="#111" stroke-width="1"/>
<text x="175.9" y="576.15" font-size="8.9" text-anchor="end" textLength="4.55" lengthAdjust="spacingAndGlyphs">0</text>
<line x1="178.3" y1="555.42" x2="181.9" y2="555.42" stroke="#111" stroke-width="1"/>
<text x="175.9" y="558.47" font-size="8.9" text-anchor="end" textLength="4.55" lengthAdjust="spacingAndGlyphs">2</text>
<line x1="178.3" y1="537.74" x2="181.9" y2="537.74" stroke="#111" stroke-width="1"/>
<text x="175.9" y="540.79" font-size="8.9" text-anchor="end" textLength="4.55" lengthAdjust="spacingAndGlyphs">4</text>
<line x1="178.3" y1="520.06" x2="181.9" y2="520.06" stroke="#111" stroke-width="1"/>
<text x="175.9" y="523.11" font-size="8.9" text-anchor="end" textLength="4.55" lengthAdjust="spacingAndGlyphs">6</text>
<line x1="178.3" y1="502.38" x2="181.9" y2="502.38" stroke="#111" stroke-width="1"/>
<text x="175.9" y="505.43" font-size="8.9" text-anchor="end" textLength="4.55" lengthAdjust="spacingAndGlyphs">8</text>
<text x="164.7" y="537.7" font-size="8.6" text-anchor="middle" textLength="28.8" lengthAdjust="spacingAndGlyphs" transform="rotate(-90 164.7 537.7)">(10<tspan font-size="5.90" dy="-3.60">3</tspan><tspan dy="3.60">/µL)</tspan></text>
<text x="196.55" y="585.4" font-size="8.2" text-anchor="middle" textLength="46.1" lengthAdjust="spacingAndGlyphs">Lymphocytes</text>
<rect x="272.3" y="538.2" width="7.2" height="34.9" fill="#E3889A" stroke="#DC788D" stroke-width="0.6"/>
<rect x="282.5" y="554.3" width="7.3" height="18.8" fill="#88A8C4" stroke="#789BBC" stroke-width="0.6"/>
<line x1="275.9" y1="525.8" x2="275.9" y2="549.1" stroke="#1a1a1a" stroke-width="0.95"/>
<line x1="273.9" y1="525.8" x2="277.9" y2="525.8" stroke="#1a1a1a" stroke-width="0.95"/>
<line x1="273.9" y1="549.1" x2="277.9" y2="549.1" stroke="#1a1a1a" stroke-width="0.95"/>
<circle cx="275.7" cy="513.9" r="2.15" fill="none" stroke="#D3294A" stroke-width="1.05"/>
<circle cx="273.7" cy="549.3" r="2.15" fill="none" stroke="#D3294A" stroke-width="1.05"/>
<circle cx="277.8" cy="549.3" r="2.15" fill="none" stroke="#D3294A" stroke-width="1.05"/>
<line x1="286.15" y1="549.6" x2="286.15" y2="557.2" stroke="#1a1a1a" stroke-width="0.95"/>
<line x1="284.15" y1="549.6" x2="288.15" y2="549.6" stroke="#1a1a1a" stroke-width="0.95"/>
<line x1="284.15" y1="557.2" x2="288.15" y2="557.2" stroke="#1a1a1a" stroke-width="0.95"/>
<circle cx="283.7" cy="549.1" r="2.15" fill="none" stroke="#2D6BA6" stroke-width="1.05"/>
<circle cx="288.4" cy="549.1" r="2.15" fill="none" stroke="#2D6BA6" stroke-width="1.05"/>
<circle cx="285.7" cy="560.9" r="2.15" fill="none" stroke="#2D6BA6" stroke-width="1.05"/>
<line x1="266.3" y1="498.7" x2="266.3" y2="573.7" stroke="#111" stroke-width="1.15"/>
<line x1="265.7" y1="573.45" x2="295.5" y2="573.45" stroke="#111" stroke-width="1.1"/>
<line x1="262.7" y1="573.1" x2="266.3" y2="573.1" stroke="#111" stroke-width="1"/>
<text x="260.8" y="576.15" font-size="8.9" text-anchor="end" textLength="4.55" lengthAdjust="spacingAndGlyphs">0</text>
<line x1="262.7" y1="549.83" x2="266.3" y2="549.83" stroke="#111" stroke-width="1"/>
<text x="260.8" y="552.88" font-size="8.9" text-anchor="end" textLength="15.93" lengthAdjust="spacingAndGlyphs">0.02</text>
<line x1="262.7" y1="526.57" x2="266.3" y2="526.57" stroke="#111" stroke-width="1"/>
<text x="260.8" y="529.62" font-size="8.9" text-anchor="end" textLength="15.93" lengthAdjust="spacingAndGlyphs">0.04</text>
<line x1="262.7" y1="503.3" x2="266.3" y2="503.3" stroke="#111" stroke-width="1"/>
<text x="260.8" y="506.35" font-size="8.9" text-anchor="end" textLength="15.93" lengthAdjust="spacingAndGlyphs">0.06</text>
<text x="239.4" y="537.7" font-size="8.6" text-anchor="middle" textLength="28.8" lengthAdjust="spacingAndGlyphs" transform="rotate(-90 239.4 537.7)">(10<tspan font-size="5.90" dy="-3.60">3</tspan><tspan dy="3.60">/µL)</tspan></text>
<text x="281.3" y="585.4" font-size="8.2" text-anchor="middle" textLength="38.8" lengthAdjust="spacingAndGlyphs">Monocytes</text>
<rect x="343.3" y="518.5" width="7.3" height="54.6" fill="#E3889A" stroke="#DC788D" stroke-width="0.6"/>
<rect x="354.3" y="516.2" width="6.7" height="56.9" fill="#88A8C4" stroke="#789BBC" stroke-width="0.6"/>
<line x1="346.95" y1="515.5" x2="346.95" y2="518" stroke="#1a1a1a" stroke-width="0.95"/>
<line x1="344.95" y1="515.5" x2="348.95" y2="515.5" stroke="#1a1a1a" stroke-width="0.95"/>
<line x1="344.95" y1="518" x2="348.95" y2="518" stroke="#1a1a1a" stroke-width="0.95"/>
<circle cx="344.6" cy="518.4" r="2.15" fill="none" stroke="#D3294A" stroke-width="1.05"/>
<circle cx="346.6" cy="514.6" r="2.15" fill="none" stroke="#D3294A" stroke-width="1.05"/>
<circle cx="349.6" cy="515.9" r="2.15" fill="none" stroke="#D3294A" stroke-width="1.05"/>
<line x1="357.65" y1="512.1" x2="357.65" y2="518.6" stroke="#1a1a1a" stroke-width="0.95"/>
<line x1="355.65" y1="512.1" x2="359.65" y2="512.1" stroke="#1a1a1a" stroke-width="0.95"/>
<line x1="355.65" y1="518.6" x2="359.65" y2="518.6" stroke="#1a1a1a" stroke-width="0.95"/>
<circle cx="357.5" cy="509.1" r="2.15" fill="none" stroke="#2D6BA6" stroke-width="1.05"/>
<circle cx="357.5" cy="515.7" r="2.15" fill="none" stroke="#2D6BA6" stroke-width="1.05"/>
<circle cx="357.5" cy="521.1" r="2.15" fill="none" stroke="#2D6BA6" stroke-width="1.05"/>
<line x1="338.3" y1="498.7" x2="338.3" y2="573.7" stroke="#111" stroke-width="1.15"/>
<line x1="337.7" y1="573.45" x2="366.6" y2="573.45" stroke="#111" stroke-width="1.1"/>
<line x1="334.7" y1="573.1" x2="338.3" y2="573.1" stroke="#111" stroke-width="1"/>
<text x="332.8" y="576.15" font-size="8.9" text-anchor="end" textLength="4.55" lengthAdjust="spacingAndGlyphs">0</text>
<line x1="334.7" y1="559.04" x2="338.3" y2="559.04" stroke="#111" stroke-width="1"/>
<text x="332.8" y="562.09" font-size="8.9" text-anchor="end" textLength="4.55" lengthAdjust="spacingAndGlyphs">2</text>
<line x1="334.7" y1="544.98" x2="338.3" y2="544.98" stroke="#111" stroke-width="1"/>
<text x="332.8" y="548.03" font-size="8.9" text-anchor="end" textLength="4.55" lengthAdjust="spacingAndGlyphs">4</text>
<line x1="334.7" y1="530.92" x2="338.3" y2="530.92" stroke="#111" stroke-width="1"/>
<text x="332.8" y="533.97" font-size="8.9" text-anchor="end" textLength="4.55" lengthAdjust="spacingAndGlyphs">6</text>
<line x1="334.7" y1="516.86" x2="338.3" y2="516.86" stroke="#111" stroke-width="1"/>
<text x="332.8" y="519.91" font-size="8.9" text-anchor="end" textLength="4.55" lengthAdjust="spacingAndGlyphs">8</text>
<line x1="334.7" y1="502.8" x2="338.3" y2="502.8" stroke="#111" stroke-width="1"/>
<text x="332.8" y="505.85" font-size="8.9" text-anchor="end" textLength="9.11" lengthAdjust="spacingAndGlyphs">10</text>
<text x="320.3" y="537.7" font-size="8.6" text-anchor="middle" textLength="28.8" lengthAdjust="spacingAndGlyphs" transform="rotate(-90 320.3 537.7)">(10<tspan font-size="5.90" dy="-3.60">6</tspan><tspan dy="3.60">/µL)</tspan></text>
<text x="352.85" y="585.4" font-size="8.2" text-anchor="middle" textLength="18.9" lengthAdjust="spacingAndGlyphs">RBCs</text>
<rect x="409.9" y="519.4" width="7" height="53.7" fill="#E3889A" stroke="#DC788D" stroke-width="0.6"/>
<rect x="420.5" y="518.2" width="7" height="54.9" fill="#88A8C4" stroke="#789BBC" stroke-width="0.6"/>
<line x1="413.4" y1="517" x2="413.4" y2="520" stroke="#1a1a1a" stroke-width="0.95"/>
<line x1="411.4" y1="517" x2="415.4" y2="517" stroke="#1a1a1a" stroke-width="0.95"/>
<line x1="411.4" y1="520" x2="415.4" y2="520" stroke="#1a1a1a" stroke-width="0.95"/>
<circle cx="411.1" cy="520.7" r="2.15" fill="none" stroke="#D3294A" stroke-width="1.05"/>
<circle cx="413.1" cy="516.2" r="2.15" fill="none" stroke="#D3294A" stroke-width="1.05"/>
<circle cx="416.1" cy="517.2" r="2.15" fill="none" stroke="#D3294A" stroke-width="1.05"/>
<line x1="424" y1="514.4" x2="424" y2="520.2" stroke="#1a1a1a" stroke-width="0.95"/>
<line x1="422" y1="514.4" x2="426" y2="514.4" stroke="#1a1a1a" stroke-width="0.95"/>
<line x1="422" y1="520.2" x2="426" y2="520.2" stroke="#1a1a1a" stroke-width="0.95"/>
<circle cx="423.8" cy="511.6" r="2.15" fill="none" stroke="#2D6BA6" stroke-width="1.05"/>
<circle cx="423.8" cy="517.7" r="2.15" fill="none" stroke="#2D6BA6" stroke-width="1.05"/>
<circle cx="423.8" cy="522.5" r="2.15" fill="none" stroke="#2D6BA6" stroke-width="1.05"/>
<line x1="404.4" y1="498.7" x2="404.4" y2="573.7" stroke="#111" stroke-width="1.15"/>
<line x1="403.8" y1="573.45" x2="432.9" y2="573.45" stroke="#111" stroke-width="1.1"/>
<line x1="400.8" y1="573.1" x2="404.4" y2="573.1" stroke="#111" stroke-width="1"/>
<text x="398.9" y="576.15" font-size="8.9" text-anchor="end" textLength="4.55" lengthAdjust="spacingAndGlyphs">0</text>
<line x1="400.8" y1="544.7" x2="404.4" y2="544.7" stroke="#111" stroke-width="1"/>
<text x="398.9" y="547.75" font-size="8.9" text-anchor="end" textLength="9.11" lengthAdjust="spacingAndGlyphs">20</text>
<line x1="400.8" y1="516.3" x2="404.4" y2="516.3" stroke="#111" stroke-width="1"/>
<text x="398.9" y="519.35" font-size="8.9" text-anchor="end" textLength="9.11" lengthAdjust="spacingAndGlyphs">40</text>
<line x1="402.5" y1="558.9" x2="404.4" y2="558.9" stroke="#111" stroke-width="1"/>
<line x1="402.5" y1="530.5" x2="404.4" y2="530.5" stroke="#111" stroke-width="1"/>
<line x1="402.5" y1="502.1" x2="404.4" y2="502.1" stroke="#111" stroke-width="1"/>
<text x="382.3" y="537.7" font-size="8.6" text-anchor="middle" transform="rotate(-90 382.3 537.7)">(%)</text>
<text x="419.05" y="585.4" font-size="8.2" text-anchor="middle" textLength="15.9" lengthAdjust="spacingAndGlyphs">HCT</text>
<rect x="488.3" y="519.6" width="7.2" height="53.5" fill="#E3889A" stroke="#DC788D" stroke-width="0.6"/>
<rect x="498.5" y="525.3" width="7.2" height="47.8" fill="#88A8C4" stroke="#789BBC" stroke-width="0.6"/>
<line x1="491.9" y1="509.5" x2="491.9" y2="527.6" stroke="#1a1a1a" stroke-width="0.95"/>
<line x1="489.9" y1="509.5" x2="493.9" y2="509.5" stroke="#1a1a1a" stroke-width="0.95"/>
<line x1="489.9" y1="527.6" x2="493.9" y2="527.6" stroke="#1a1a1a" stroke-width="0.95"/>
<circle cx="494.5" cy="507.8" r="2.15" fill="none" stroke="#D3294A" stroke-width="1.05"/>
<circle cx="491.8" cy="511.5" r="2.15" fill="none" stroke="#D3294A" stroke-width="1.05"/>
<circle cx="491.8" cy="536.5" r="2.15" fill="none" stroke="#D3294A" stroke-width="1.05"/>
<line x1="502.1" y1="521.5" x2="502.1" y2="527.4" stroke="#1a1a1a" stroke-width="0.95"/>
<line x1="500.1" y1="521.5" x2="504.1" y2="521.5" stroke="#1a1a1a" stroke-width="0.95"/>
<line x1="500.1" y1="527.4" x2="504.1" y2="527.4" stroke="#1a1a1a" stroke-width="0.95"/>
<circle cx="502.2" cy="518.3" r="2.15" fill="none" stroke="#2D6BA6" stroke-width="1.05"/>
<circle cx="504.6" cy="525" r="2.15" fill="none" stroke="#2D6BA6" stroke-width="1.05"/>
<circle cx="500.4" cy="529.1" r="2.15" fill="none" stroke="#2D6BA6" stroke-width="1.05"/>
<line x1="483.4" y1="498.7" x2="483.4" y2="573.7" stroke="#111" stroke-width="1.15"/>
<line x1="482.8" y1="573.45" x2="511.4" y2="573.45" stroke="#111" stroke-width="1.1"/>
<line x1="479.8" y1="573.1" x2="483.4" y2="573.1" stroke="#111" stroke-width="1"/>
<text x="477.4" y="576.15" font-size="8.9" text-anchor="end" textLength="4.55" lengthAdjust="spacingAndGlyphs">0</text>
<line x1="479.8" y1="555.52" x2="483.4" y2="555.52" stroke="#111" stroke-width="1"/>
<text x="477.4" y="558.57" font-size="8.9" text-anchor="end" textLength="13.66" lengthAdjust="spacingAndGlyphs">500</text>
<line x1="479.8" y1="537.95" x2="483.4" y2="537.95" stroke="#111" stroke-width="1"/>
<text x="477.4" y="541" font-size="8.9" text-anchor="end" textLength="18.21" lengthAdjust="spacingAndGlyphs">1000</text>
<line x1="479.8" y1="520.38" x2="483.4" y2="520.38" stroke="#111" stroke-width="1"/>
<text x="477.4" y="523.42" font-size="8.9" text-anchor="end" textLength="18.21" lengthAdjust="spacingAndGlyphs">1500</text>
<line x1="479.8" y1="502.8" x2="483.4" y2="502.8" stroke="#111" stroke-width="1"/>
<text x="477.4" y="505.85" font-size="8.9" text-anchor="end" textLength="18.21" lengthAdjust="spacingAndGlyphs">2000</text>
<text x="453.2" y="537.7" font-size="8.6" text-anchor="middle" textLength="28.8" lengthAdjust="spacingAndGlyphs" transform="rotate(-90 453.2 537.7)">(10<tspan font-size="5.90" dy="-3.60">3</tspan><tspan dy="3.60">/µL)</tspan></text>
<text x="497.6" y="585.4" font-size="8.2" text-anchor="middle" textLength="30" lengthAdjust="spacingAndGlyphs">Platelets</text>
</g>
<rect x="0" y="0" width="520" height="1.1" fill="#000"/>
<rect x="0" y="0" width="1.1" height="591" fill="#000"/>
<rect x="518.9" y="0" width="1.1" height="591" fill="#000"/>
<rect x="0" y="589.75" width="520" height="1.25" fill="#000"/>
</svg>
</body></html>
